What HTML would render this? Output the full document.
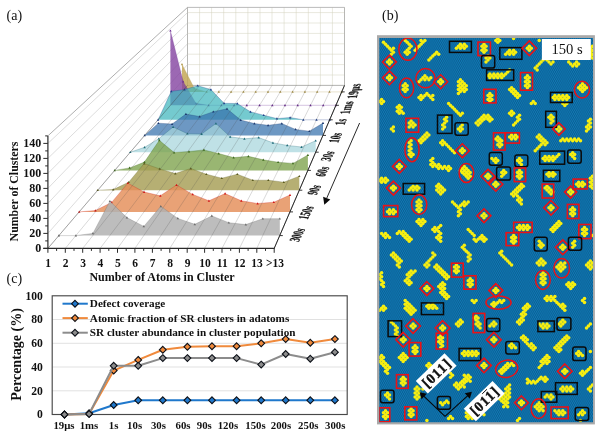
<!DOCTYPE html>
<html><head><meta charset="utf-8"><title>figure</title>
<style>
html,body{margin:0;padding:0;background:#fff;}
body{width:600px;height:444px;overflow:hidden;font-family:"Liberation Serif",serif;}
svg{display:block;will-change:transform;}
.b{font-family:"Liberation Serif",serif;font-weight:bold;fill:#111;}
.r{font-family:"Liberation Serif",serif;fill:#111;}
</style></head><body>
<svg width="600" height="444" viewBox="0 0 600 444">
<defs>
<pattern id="tex" x="379.25" y="38" width="1.9" height="3.66" patternUnits="userSpaceOnUse">
<rect width="1.9" height="3.66" fill="#0b5c92"/>
<circle cx="0.475" cy="0.915" r="0.74" fill="#1287c2"/>
<circle cx="1.425" cy="2.745" r="0.74" fill="#1287c2"/>
</pattern>
<clipPath id="bclip"><rect x="379.25" y="38" width="213.75" height="384.25"/></clipPath>
</defs>
<rect width="600" height="444" fill="#fff"/>
<line x1="187.5" y1="85.4" x2="344.5" y2="85.4" stroke="#d2d1bd" stroke-width="0.5"/>
<line x1="187.5" y1="75.0" x2="344.5" y2="75.0" stroke="#d2d1bd" stroke-width="0.5"/>
<line x1="187.5" y1="64.6" x2="344.5" y2="64.6" stroke="#d2d1bd" stroke-width="0.5"/>
<line x1="187.5" y1="54.2" x2="344.5" y2="54.2" stroke="#d2d1bd" stroke-width="0.5"/>
<line x1="187.5" y1="43.8" x2="344.5" y2="43.8" stroke="#d2d1bd" stroke-width="0.5"/>
<line x1="187.5" y1="33.4" x2="344.5" y2="33.4" stroke="#d2d1bd" stroke-width="0.5"/>
<line x1="187.5" y1="23.0" x2="344.5" y2="23.0" stroke="#d2d1bd" stroke-width="0.5"/>
<line x1="187.5" y1="12.6" x2="344.5" y2="12.6" stroke="#d2d1bd" stroke-width="0.5"/>
<line x1="187.5" y1="85.4" x2="187.5" y2="7.4" stroke="#d2d1bd" stroke-width="0.5"/>
<line x1="199.6" y1="85.4" x2="199.6" y2="7.4" stroke="#d2d1bd" stroke-width="0.5"/>
<line x1="211.6" y1="85.4" x2="211.6" y2="7.4" stroke="#d2d1bd" stroke-width="0.5"/>
<line x1="223.7" y1="85.4" x2="223.7" y2="7.4" stroke="#d2d1bd" stroke-width="0.5"/>
<line x1="235.8" y1="85.4" x2="235.8" y2="7.4" stroke="#d2d1bd" stroke-width="0.5"/>
<line x1="247.9" y1="85.4" x2="247.9" y2="7.4" stroke="#d2d1bd" stroke-width="0.5"/>
<line x1="260.0" y1="85.4" x2="260.0" y2="7.4" stroke="#d2d1bd" stroke-width="0.5"/>
<line x1="272.0" y1="85.4" x2="272.0" y2="7.4" stroke="#d2d1bd" stroke-width="0.5"/>
<line x1="284.1" y1="85.4" x2="284.1" y2="7.4" stroke="#d2d1bd" stroke-width="0.5"/>
<line x1="296.2" y1="85.4" x2="296.2" y2="7.4" stroke="#d2d1bd" stroke-width="0.5"/>
<line x1="308.3" y1="85.4" x2="308.3" y2="7.4" stroke="#d2d1bd" stroke-width="0.5"/>
<line x1="320.4" y1="85.4" x2="320.4" y2="7.4" stroke="#d2d1bd" stroke-width="0.5"/>
<line x1="332.4" y1="85.4" x2="332.4" y2="7.4" stroke="#d2d1bd" stroke-width="0.5"/>
<line x1="344.5" y1="85.4" x2="344.5" y2="7.4" stroke="#d2d1bd" stroke-width="0.5"/>
<polygon points="187.5,85.4 344.5,85.4 344.5,7.4 187.5,7.4" fill="none" stroke="#a9a9a9" stroke-width="0.8"/>
<line x1="47.9" y1="248.4" x2="187.5" y2="85.4" stroke="#c6c6c6" stroke-width="0.6"/>
<line x1="47.9" y1="233.4" x2="187.5" y2="75.0" stroke="#c6c6c6" stroke-width="0.6"/>
<line x1="47.9" y1="218.4" x2="187.5" y2="64.6" stroke="#c6c6c6" stroke-width="0.6"/>
<line x1="47.9" y1="203.4" x2="187.5" y2="54.2" stroke="#c6c6c6" stroke-width="0.6"/>
<line x1="47.9" y1="188.4" x2="187.5" y2="43.8" stroke="#c6c6c6" stroke-width="0.6"/>
<line x1="47.9" y1="173.4" x2="187.5" y2="33.4" stroke="#c6c6c6" stroke-width="0.6"/>
<line x1="47.9" y1="158.4" x2="187.5" y2="23.0" stroke="#c6c6c6" stroke-width="0.6"/>
<line x1="47.9" y1="143.4" x2="187.5" y2="12.6" stroke="#c6c6c6" stroke-width="0.6"/>
<line x1="47.9" y1="135.9" x2="187.5" y2="7.4" stroke="#9a9a9a" stroke-width="0.8"/>
<polygon points="182.0,64.3 194.3,88.3 206.6,91.9 218.8,91.9 231.1,91.9 243.4,91.9 255.7,91.9 268.0,91.9 280.3,91.9 292.6,91.9 304.9,91.9 317.2,91.9 329.5,91.9 341.7,91.9 341.7,91.9 182.0,91.9" fill="rgba(196,168,88,0.85)"/>
<polyline points="182.0,64.3 194.3,88.3 206.6,91.9 218.8,91.9 231.1,91.9 243.4,91.9 255.7,91.9 268.0,91.9 280.3,91.9 292.6,91.9 304.9,91.9 317.2,91.9 329.5,91.9 341.7,91.9" fill="none" stroke="#b09a50" stroke-width="0.5" stroke-opacity="0.55"/>
<polygon points="182.0,63.0 183.2,65.2 180.8,65.2" fill="#b09a50"/>
<polygon points="194.3,87.0 195.5,89.2 193.1,89.2" fill="#b09a50"/>
<polygon points="206.6,90.6 207.8,92.8 205.4,92.8" fill="#b09a50"/>
<polygon points="218.8,90.6 220.0,92.8 217.6,92.8" fill="#b09a50"/>
<polygon points="231.1,90.6 232.3,92.8 229.9,92.8" fill="#b09a50"/>
<polygon points="243.4,90.6 244.6,92.8 242.2,92.8" fill="#b09a50"/>
<polygon points="255.7,90.6 256.9,92.8 254.5,92.8" fill="#b09a50"/>
<polygon points="268.0,90.6 269.2,92.8 266.8,92.8" fill="#b09a50"/>
<polygon points="280.3,90.6 281.5,92.8 279.1,92.8" fill="#b09a50"/>
<polygon points="292.6,90.6 293.8,92.8 291.4,92.8" fill="#b09a50"/>
<polygon points="304.9,90.6 306.1,92.8 303.7,92.8" fill="#b09a50"/>
<polygon points="317.2,90.6 318.4,92.8 316.0,92.8" fill="#b09a50"/>
<polygon points="329.5,90.6 330.7,92.8 328.3,92.8" fill="#b09a50"/>
<polygon points="341.7,90.6 342.9,92.8 340.5,92.8" fill="#b09a50"/>
<polygon points="170.4,30.7 183.2,81.7 195.9,103.3 208.6,105.3 221.4,105.3 234.1,105.3 246.8,105.3 259.6,105.3 272.3,105.3 285.0,105.3 297.7,105.3 310.5,105.3 323.2,105.3 335.9,105.3 335.9,105.3 170.4,105.3" fill="rgba(128,62,158,0.78)"/>
<polyline points="170.4,30.7 183.2,81.7 195.9,103.3 208.6,105.3 221.4,105.3 234.1,105.3 246.8,105.3 259.6,105.3 272.3,105.3 285.0,105.3 297.7,105.3 310.5,105.3 323.2,105.3 335.9,105.3" fill="none" stroke="#6a2c90" stroke-width="0.5" stroke-opacity="0.55"/>
<polygon points="170.4,29.4 171.6,31.6 169.2,31.6" fill="#6a2c90"/>
<polygon points="183.2,80.4 184.4,82.6 182.0,82.6" fill="#6a2c90"/>
<polygon points="195.9,102.0 197.1,104.2 194.7,104.2" fill="#6a2c90"/>
<polygon points="208.6,104.0 209.8,106.2 207.4,106.2" fill="#6a2c90"/>
<polygon points="221.4,104.0 222.6,106.2 220.2,106.2" fill="#6a2c90"/>
<polygon points="234.1,104.0 235.3,106.2 232.9,106.2" fill="#6a2c90"/>
<polygon points="246.8,104.0 248.0,106.2 245.6,106.2" fill="#6a2c90"/>
<polygon points="259.6,104.0 260.8,106.2 258.4,106.2" fill="#6a2c90"/>
<polygon points="272.3,104.0 273.5,106.2 271.1,106.2" fill="#6a2c90"/>
<polygon points="285.0,104.0 286.2,106.2 283.8,106.2" fill="#6a2c90"/>
<polygon points="297.7,104.0 298.9,106.2 296.5,106.2" fill="#6a2c90"/>
<polygon points="310.5,104.0 311.7,106.2 309.3,106.2" fill="#6a2c90"/>
<polygon points="323.2,104.0 324.4,106.2 322.0,106.2" fill="#6a2c90"/>
<polygon points="335.9,104.0 337.1,106.2 334.7,106.2" fill="#6a2c90"/>
<polygon points="158.1,119.8 171.3,91.3 184.5,89.6 197.7,85.7 210.9,89.6 224.1,103.3 237.3,103.5 250.5,111.8 263.7,115.2 276.9,118.6 290.1,117.5 303.3,119.8 316.5,119.8 329.7,119.8 329.7,119.8 158.1,119.8" fill="rgba(62,182,188,0.72)"/>
<polyline points="158.1,119.8 171.3,91.3 184.5,89.6 197.7,85.7 210.9,89.6 224.1,103.3 237.3,103.5 250.5,111.8 263.7,115.2 276.9,118.6 290.1,117.5 303.3,119.8 316.5,119.8 329.7,119.8" fill="none" stroke="#1f3f8a" stroke-width="0.5" stroke-opacity="0.55"/>
<polygon points="158.1,118.5 159.3,120.7 156.9,120.7" fill="#1f3f8a"/>
<polygon points="171.3,90.0 172.5,92.2 170.1,92.2" fill="#1f3f8a"/>
<polygon points="184.5,88.3 185.7,90.5 183.3,90.5" fill="#1f3f8a"/>
<polygon points="197.7,84.4 198.9,86.6 196.5,86.6" fill="#1f3f8a"/>
<polygon points="210.9,88.3 212.1,90.5 209.7,90.5" fill="#1f3f8a"/>
<polygon points="224.1,102.0 225.3,104.2 222.9,104.2" fill="#1f3f8a"/>
<polygon points="237.3,102.2 238.5,104.4 236.1,104.4" fill="#1f3f8a"/>
<polygon points="250.5,110.5 251.7,112.7 249.3,112.7" fill="#1f3f8a"/>
<polygon points="263.7,113.9 264.9,116.1 262.5,116.1" fill="#1f3f8a"/>
<polygon points="276.9,117.3 278.1,119.5 275.7,119.5" fill="#1f3f8a"/>
<polygon points="290.1,116.2 291.3,118.4 288.9,118.4" fill="#1f3f8a"/>
<polygon points="303.3,118.5 304.5,120.7 302.1,120.7" fill="#1f3f8a"/>
<polygon points="316.5,118.5 317.7,120.7 315.3,120.7" fill="#1f3f8a"/>
<polygon points="329.7,118.5 330.9,120.7 328.5,120.7" fill="#1f3f8a"/>
<polygon points="144.7,135.4 158.4,123.2 172.1,124.0 185.9,114.1 199.6,116.5 213.3,111.7 227.0,108.8 240.7,120.0 254.4,123.5 268.1,125.3 281.8,123.5 295.6,129.4 309.3,131.2 323.0,123.1 323.0,135.4 144.7,135.4" fill="rgba(52,112,172,0.72)"/>
<polyline points="144.7,135.4 158.4,123.2 172.1,124.0 185.9,114.1 199.6,116.5 213.3,111.7 227.0,108.8 240.7,120.0 254.4,123.5 268.1,125.3 281.8,123.5 295.6,129.4 309.3,131.2 323.0,123.1" fill="none" stroke="#1d3a70" stroke-width="0.5" stroke-opacity="0.55"/>
<polygon points="144.7,134.1 145.9,136.3 143.5,136.3" fill="#1d3a70"/>
<polygon points="158.4,121.9 159.6,124.1 157.2,124.1" fill="#1d3a70"/>
<polygon points="172.1,122.7 173.3,124.9 170.9,124.9" fill="#1d3a70"/>
<polygon points="185.9,112.8 187.1,115.0 184.7,115.0" fill="#1d3a70"/>
<polygon points="199.6,115.2 200.8,117.4 198.4,117.4" fill="#1d3a70"/>
<polygon points="213.3,110.4 214.5,112.6 212.1,112.6" fill="#1d3a70"/>
<polygon points="227.0,107.5 228.2,109.7 225.8,109.7" fill="#1d3a70"/>
<polygon points="240.7,118.7 241.9,120.9 239.5,120.9" fill="#1d3a70"/>
<polygon points="254.4,122.2 255.6,124.4 253.2,124.4" fill="#1d3a70"/>
<polygon points="268.1,124.0 269.3,126.2 266.9,126.2" fill="#1d3a70"/>
<polygon points="281.8,122.2 283.0,124.4 280.6,124.4" fill="#1d3a70"/>
<polygon points="295.6,128.1 296.8,130.3 294.4,130.3" fill="#1d3a70"/>
<polygon points="309.3,129.9 310.5,132.1 308.1,132.1" fill="#1d3a70"/>
<polygon points="323.0,121.8 324.2,124.0 321.8,124.0" fill="#1d3a70"/>
<polygon points="130.3,152.2 144.6,147.3 158.8,138.7 173.1,127.0 187.4,133.7 201.6,134.0 215.9,123.6 230.2,136.8 244.4,138.8 258.7,137.6 272.9,142.8 287.2,145.4 301.5,147.0 315.7,140.7 315.7,152.2 130.3,152.2" fill="rgba(166,214,220,0.72)"/>
<polyline points="130.3,152.2 144.6,147.3 158.8,138.7 173.1,127.0 187.4,133.7 201.6,134.0 215.9,123.6 230.2,136.8 244.4,138.8 258.7,137.6 272.9,142.8 287.2,145.4 301.5,147.0 315.7,140.7" fill="none" stroke="#1f6a78" stroke-width="0.5" stroke-opacity="0.55"/>
<polygon points="130.3,150.9 131.5,153.1 129.1,153.1" fill="#1f6a78"/>
<polygon points="144.6,146.0 145.8,148.2 143.4,148.2" fill="#1f6a78"/>
<polygon points="158.8,137.4 160.0,139.6 157.6,139.6" fill="#1f6a78"/>
<polygon points="173.1,125.7 174.3,127.9 171.9,127.9" fill="#1f6a78"/>
<polygon points="187.4,132.4 188.6,134.6 186.2,134.6" fill="#1f6a78"/>
<polygon points="201.6,132.7 202.8,134.9 200.4,134.9" fill="#1f6a78"/>
<polygon points="215.9,122.3 217.1,124.5 214.7,124.5" fill="#1f6a78"/>
<polygon points="230.2,135.5 231.4,137.7 229.0,137.7" fill="#1f6a78"/>
<polygon points="244.4,137.5 245.6,139.7 243.2,139.7" fill="#1f6a78"/>
<polygon points="258.7,136.3 259.9,138.5 257.5,138.5" fill="#1f6a78"/>
<polygon points="272.9,141.5 274.1,143.7 271.7,143.7" fill="#1f6a78"/>
<polygon points="287.2,144.1 288.4,146.3 286.0,146.3" fill="#1f6a78"/>
<polygon points="301.5,145.7 302.7,147.9 300.3,147.9" fill="#1f6a78"/>
<polygon points="315.7,139.4 316.9,141.6 314.5,141.6" fill="#1f6a78"/>
<polygon points="114.7,170.4 129.6,167.9 144.4,162.1 159.3,140.3 174.1,152.5 189.0,151.5 203.9,149.9 218.7,153.5 233.6,157.6 248.4,156.3 263.3,159.8 278.1,162.2 293.0,163.4 307.9,155.0 307.9,170.4 114.7,170.4" fill="rgba(124,162,74,0.78)"/>
<polyline points="114.7,170.4 129.6,167.9 144.4,162.1 159.3,140.3 174.1,152.5 189.0,151.5 203.9,149.9 218.7,153.5 233.6,157.6 248.4,156.3 263.3,159.8 278.1,162.2 293.0,163.4 307.9,155.0" fill="none" stroke="#3f6a1e" stroke-width="0.5" stroke-opacity="0.55"/>
<polygon points="114.7,169.1 115.9,171.3 113.5,171.3" fill="#3f6a1e"/>
<polygon points="129.6,166.6 130.8,168.8 128.4,168.8" fill="#3f6a1e"/>
<polygon points="144.4,160.8 145.6,163.0 143.2,163.0" fill="#3f6a1e"/>
<polygon points="159.3,139.0 160.5,141.2 158.1,141.2" fill="#3f6a1e"/>
<polygon points="174.1,151.2 175.3,153.4 172.9,153.4" fill="#3f6a1e"/>
<polygon points="189.0,150.2 190.2,152.4 187.8,152.4" fill="#3f6a1e"/>
<polygon points="203.9,148.6 205.1,150.8 202.7,150.8" fill="#3f6a1e"/>
<polygon points="218.7,152.2 219.9,154.4 217.5,154.4" fill="#3f6a1e"/>
<polygon points="233.6,156.3 234.8,158.5 232.4,158.5" fill="#3f6a1e"/>
<polygon points="248.4,155.0 249.6,157.2 247.2,157.2" fill="#3f6a1e"/>
<polygon points="263.3,158.5 264.5,160.7 262.1,160.7" fill="#3f6a1e"/>
<polygon points="278.1,160.9 279.3,163.1 276.9,163.1" fill="#3f6a1e"/>
<polygon points="293.0,162.1 294.2,164.3 291.8,164.3" fill="#3f6a1e"/>
<polygon points="307.9,153.7 309.1,155.9 306.7,155.9" fill="#3f6a1e"/>
<polygon points="97.7,190.2 113.2,189.6 128.7,182.2 144.2,163.5 159.7,168.9 175.3,173.5 190.8,168.5 206.3,174.2 221.8,178.2 237.3,174.2 252.8,180.2 268.3,180.2 283.8,182.2 299.3,176.2 299.3,190.2 97.7,190.2" fill="rgba(166,158,84,0.82)"/>
<polyline points="97.7,190.2 113.2,189.6 128.7,182.2 144.2,163.5 159.7,168.9 175.3,173.5 190.8,168.5 206.3,174.2 221.8,178.2 237.3,174.2 252.8,180.2 268.3,180.2 283.8,182.2 299.3,176.2" fill="none" stroke="#5a5a1e" stroke-width="0.5" stroke-opacity="0.55"/>
<polygon points="97.7,188.9 98.9,191.1 96.5,191.1" fill="#5a5a1e"/>
<polygon points="113.2,188.3 114.4,190.5 112.0,190.5" fill="#5a5a1e"/>
<polygon points="128.7,180.9 129.9,183.1 127.5,183.1" fill="#5a5a1e"/>
<polygon points="144.2,162.2 145.4,164.4 143.0,164.4" fill="#5a5a1e"/>
<polygon points="159.7,167.6 160.9,169.8 158.5,169.8" fill="#5a5a1e"/>
<polygon points="175.3,172.2 176.5,174.4 174.1,174.4" fill="#5a5a1e"/>
<polygon points="190.8,167.2 192.0,169.4 189.6,169.4" fill="#5a5a1e"/>
<polygon points="206.3,172.9 207.5,175.1 205.1,175.1" fill="#5a5a1e"/>
<polygon points="221.8,176.9 223.0,179.1 220.6,179.1" fill="#5a5a1e"/>
<polygon points="237.3,172.9 238.5,175.1 236.1,175.1" fill="#5a5a1e"/>
<polygon points="252.8,178.9 254.0,181.1 251.6,181.1" fill="#5a5a1e"/>
<polygon points="268.3,178.9 269.5,181.1 267.1,181.1" fill="#5a5a1e"/>
<polygon points="283.8,180.9 285.0,183.1 282.6,183.1" fill="#5a5a1e"/>
<polygon points="299.3,174.9 300.5,177.1 298.1,177.1" fill="#5a5a1e"/>
<polygon points="79.2,211.9 95.4,210.5 111.6,202.4 127.8,183.2 144.1,192.0 160.3,195.8 176.5,185.0 192.7,194.4 208.9,200.8 225.1,193.6 241.3,200.8 257.6,203.5 273.8,202.2 290.0,195.0 290.0,211.9 79.2,211.9" fill="rgba(228,142,88,0.82)"/>
<polyline points="79.2,211.9 95.4,210.5 111.6,202.4 127.8,183.2 144.1,192.0 160.3,195.8 176.5,185.0 192.7,194.4 208.9,200.8 225.1,193.6 241.3,200.8 257.6,203.5 273.8,202.2 290.0,195.0" fill="none" stroke="#d01818" stroke-width="0.5" stroke-opacity="0.55"/>
<polygon points="79.2,210.6 80.4,212.8 78.0,212.8" fill="#d01818"/>
<polygon points="95.4,209.2 96.6,211.4 94.2,211.4" fill="#d01818"/>
<polygon points="111.6,201.1 112.8,203.3 110.4,203.3" fill="#d01818"/>
<polygon points="127.8,181.9 129.0,184.1 126.6,184.1" fill="#d01818"/>
<polygon points="144.1,190.7 145.3,192.9 142.9,192.9" fill="#d01818"/>
<polygon points="160.3,194.5 161.5,196.7 159.1,196.7" fill="#d01818"/>
<polygon points="176.5,183.7 177.7,185.9 175.3,185.9" fill="#d01818"/>
<polygon points="192.7,193.1 193.9,195.3 191.5,195.3" fill="#d01818"/>
<polygon points="208.9,199.5 210.1,201.7 207.7,201.7" fill="#d01818"/>
<polygon points="225.1,192.3 226.3,194.5 223.9,194.5" fill="#d01818"/>
<polygon points="241.3,199.5 242.5,201.7 240.1,201.7" fill="#d01818"/>
<polygon points="257.6,202.2 258.8,204.4 256.4,204.4" fill="#d01818"/>
<polygon points="273.8,200.9 275.0,203.1 272.6,203.1" fill="#d01818"/>
<polygon points="290.0,193.7 291.2,195.9 288.8,195.9" fill="#d01818"/>
<polygon points="58.9,235.6 75.9,235.6 92.9,233.4 109.9,201.2 126.9,217.6 143.8,226.4 160.8,206.3 177.8,218.4 194.8,224.3 211.8,215.9 228.8,222.7 245.8,224.6 262.8,218.7 279.8,218.7 279.8,235.6 58.9,235.6" fill="rgba(178,178,178,0.85)"/>
<polyline points="58.9,235.6 75.9,235.6 92.9,233.4 109.9,201.2 126.9,217.6 143.8,226.4 160.8,206.3 177.8,218.4 194.8,224.3 211.8,215.9 228.8,222.7 245.8,224.6 262.8,218.7 279.8,218.7" fill="none" stroke="#6a6a6a" stroke-width="0.5" stroke-opacity="0.55"/>
<polygon points="58.9,234.3 60.1,236.5 57.7,236.5" fill="#6a6a6a"/>
<polygon points="75.9,234.3 77.1,236.5 74.7,236.5" fill="#6a6a6a"/>
<polygon points="92.9,232.1 94.1,234.3 91.7,234.3" fill="#6a6a6a"/>
<polygon points="109.9,199.9 111.1,202.1 108.7,202.1" fill="#6a6a6a"/>
<polygon points="126.9,216.3 128.1,218.5 125.7,218.5" fill="#6a6a6a"/>
<polygon points="143.8,225.1 145.0,227.3 142.6,227.3" fill="#6a6a6a"/>
<polygon points="160.8,205.0 162.0,207.2 159.6,207.2" fill="#6a6a6a"/>
<polygon points="177.8,217.1 179.0,219.3 176.6,219.3" fill="#6a6a6a"/>
<polygon points="194.8,223.0 196.0,225.2 193.6,225.2" fill="#6a6a6a"/>
<polygon points="211.8,214.6 213.0,216.8 210.6,216.8" fill="#6a6a6a"/>
<polygon points="228.8,221.4 230.0,223.6 227.6,223.6" fill="#6a6a6a"/>
<polygon points="245.8,223.3 247.0,225.5 244.6,225.5" fill="#6a6a6a"/>
<polygon points="262.8,217.4 264.0,219.6 261.6,219.6" fill="#6a6a6a"/>
<polygon points="279.8,217.4 281.0,219.6 278.6,219.6" fill="#6a6a6a"/>
<line x1="47.9" y1="248.4" x2="187.5" y2="85.4" stroke="rgba(60,60,60,0.6)" stroke-width="0.6"/>
<line x1="65.3" y1="248.4" x2="199.6" y2="85.4" stroke="rgba(70,70,70,0.42)" stroke-width="0.5"/>
<line x1="82.7" y1="248.4" x2="211.6" y2="85.4" stroke="rgba(70,70,70,0.42)" stroke-width="0.5"/>
<line x1="100.1" y1="248.4" x2="223.7" y2="85.4" stroke="rgba(70,70,70,0.42)" stroke-width="0.5"/>
<line x1="117.5" y1="248.4" x2="235.8" y2="85.4" stroke="rgba(70,70,70,0.42)" stroke-width="0.5"/>
<line x1="134.9" y1="248.4" x2="247.9" y2="85.4" stroke="rgba(70,70,70,0.42)" stroke-width="0.5"/>
<line x1="152.4" y1="248.4" x2="260.0" y2="85.4" stroke="rgba(70,70,70,0.42)" stroke-width="0.5"/>
<line x1="169.8" y1="248.4" x2="272.0" y2="85.4" stroke="rgba(70,70,70,0.42)" stroke-width="0.5"/>
<line x1="187.2" y1="248.4" x2="284.1" y2="85.4" stroke="rgba(70,70,70,0.42)" stroke-width="0.5"/>
<line x1="204.6" y1="248.4" x2="296.2" y2="85.4" stroke="rgba(70,70,70,0.42)" stroke-width="0.5"/>
<line x1="222.0" y1="248.4" x2="308.3" y2="85.4" stroke="rgba(70,70,70,0.42)" stroke-width="0.5"/>
<line x1="239.4" y1="248.4" x2="320.4" y2="85.4" stroke="rgba(70,70,70,0.42)" stroke-width="0.5"/>
<line x1="256.8" y1="248.4" x2="332.4" y2="85.4" stroke="rgba(70,70,70,0.42)" stroke-width="0.5"/>
<line x1="274.2" y1="248.4" x2="344.5" y2="85.4" stroke="rgba(60,60,60,0.6)" stroke-width="0.6"/>
<line x1="47.9" y1="249.0" x2="47.9" y2="135.9" stroke="#2a2a2a" stroke-width="1.2"/>
<line x1="43.3" y1="248.4" x2="47.9" y2="248.4" stroke="#2a2a2a" stroke-width="1.0"/>
<line x1="45.2" y1="240.9" x2="47.9" y2="240.9" stroke="#2a2a2a" stroke-width="1.0"/>
<line x1="43.3" y1="233.4" x2="47.9" y2="233.4" stroke="#2a2a2a" stroke-width="1.0"/>
<line x1="45.2" y1="225.9" x2="47.9" y2="225.9" stroke="#2a2a2a" stroke-width="1.0"/>
<line x1="43.3" y1="218.4" x2="47.9" y2="218.4" stroke="#2a2a2a" stroke-width="1.0"/>
<line x1="45.2" y1="210.9" x2="47.9" y2="210.9" stroke="#2a2a2a" stroke-width="1.0"/>
<line x1="43.3" y1="203.4" x2="47.9" y2="203.4" stroke="#2a2a2a" stroke-width="1.0"/>
<line x1="45.2" y1="195.9" x2="47.9" y2="195.9" stroke="#2a2a2a" stroke-width="1.0"/>
<line x1="43.3" y1="188.4" x2="47.9" y2="188.4" stroke="#2a2a2a" stroke-width="1.0"/>
<line x1="45.2" y1="180.9" x2="47.9" y2="180.9" stroke="#2a2a2a" stroke-width="1.0"/>
<line x1="43.3" y1="173.4" x2="47.9" y2="173.4" stroke="#2a2a2a" stroke-width="1.0"/>
<line x1="45.2" y1="165.9" x2="47.9" y2="165.9" stroke="#2a2a2a" stroke-width="1.0"/>
<line x1="43.3" y1="158.4" x2="47.9" y2="158.4" stroke="#2a2a2a" stroke-width="1.0"/>
<line x1="45.2" y1="150.9" x2="47.9" y2="150.9" stroke="#2a2a2a" stroke-width="1.0"/>
<line x1="43.3" y1="143.4" x2="47.9" y2="143.4" stroke="#2a2a2a" stroke-width="1.0"/>
<line x1="45.2" y1="135.9" x2="47.9" y2="135.9" stroke="#2a2a2a" stroke-width="1.0"/>
<text x="41.2" y="252.4" text-anchor="end" class="b" font-size="12">0</text>
<text x="41.2" y="237.4" text-anchor="end" class="b" font-size="12">20</text>
<text x="41.2" y="222.4" text-anchor="end" class="b" font-size="12">40</text>
<text x="41.2" y="207.4" text-anchor="end" class="b" font-size="12">60</text>
<text x="41.2" y="192.4" text-anchor="end" class="b" font-size="12">80</text>
<text x="41.2" y="177.4" text-anchor="end" class="b" font-size="12">100</text>
<text x="41.2" y="162.4" text-anchor="end" class="b" font-size="12">120</text>
<text x="41.2" y="147.4" text-anchor="end" class="b" font-size="12">140</text>
<line x1="43.3" y1="248.4" x2="274.7" y2="248.4" stroke="#2a2a2a" stroke-width="1.2"/>
<line x1="47.9" y1="248.4" x2="47.9" y2="252.8" stroke="#2a2a2a" stroke-width="1.0"/>
<line x1="56.6" y1="248.4" x2="56.6" y2="250.9" stroke="#2a2a2a" stroke-width="1.0"/>
<text x="48.2" y="267.3" text-anchor="middle" class="b" font-size="11.5">1</text>
<line x1="65.3" y1="248.4" x2="65.3" y2="252.8" stroke="#2a2a2a" stroke-width="1.0"/>
<line x1="74.0" y1="248.4" x2="74.0" y2="250.9" stroke="#2a2a2a" stroke-width="1.0"/>
<text x="65.6" y="267.3" text-anchor="middle" class="b" font-size="11.5">2</text>
<line x1="82.7" y1="248.4" x2="82.7" y2="252.8" stroke="#2a2a2a" stroke-width="1.0"/>
<line x1="91.4" y1="248.4" x2="91.4" y2="250.9" stroke="#2a2a2a" stroke-width="1.0"/>
<text x="83.0" y="267.3" text-anchor="middle" class="b" font-size="11.5">3</text>
<line x1="100.1" y1="248.4" x2="100.1" y2="252.8" stroke="#2a2a2a" stroke-width="1.0"/>
<line x1="108.8" y1="248.4" x2="108.8" y2="250.9" stroke="#2a2a2a" stroke-width="1.0"/>
<text x="100.4" y="267.3" text-anchor="middle" class="b" font-size="11.5">4</text>
<line x1="117.5" y1="248.4" x2="117.5" y2="252.8" stroke="#2a2a2a" stroke-width="1.0"/>
<line x1="126.2" y1="248.4" x2="126.2" y2="250.9" stroke="#2a2a2a" stroke-width="1.0"/>
<text x="117.8" y="267.3" text-anchor="middle" class="b" font-size="11.5">5</text>
<line x1="134.9" y1="248.4" x2="134.9" y2="252.8" stroke="#2a2a2a" stroke-width="1.0"/>
<line x1="143.7" y1="248.4" x2="143.7" y2="250.9" stroke="#2a2a2a" stroke-width="1.0"/>
<text x="135.2" y="267.3" text-anchor="middle" class="b" font-size="11.5">6</text>
<line x1="152.4" y1="248.4" x2="152.4" y2="252.8" stroke="#2a2a2a" stroke-width="1.0"/>
<line x1="161.1" y1="248.4" x2="161.1" y2="250.9" stroke="#2a2a2a" stroke-width="1.0"/>
<text x="152.7" y="267.3" text-anchor="middle" class="b" font-size="11.5">7</text>
<line x1="169.8" y1="248.4" x2="169.8" y2="252.8" stroke="#2a2a2a" stroke-width="1.0"/>
<line x1="178.5" y1="248.4" x2="178.5" y2="250.9" stroke="#2a2a2a" stroke-width="1.0"/>
<text x="170.1" y="267.3" text-anchor="middle" class="b" font-size="11.5">8</text>
<line x1="187.2" y1="248.4" x2="187.2" y2="252.8" stroke="#2a2a2a" stroke-width="1.0"/>
<line x1="195.9" y1="248.4" x2="195.9" y2="250.9" stroke="#2a2a2a" stroke-width="1.0"/>
<text x="187.5" y="267.3" text-anchor="middle" class="b" font-size="11.5">9</text>
<line x1="204.6" y1="248.4" x2="204.6" y2="252.8" stroke="#2a2a2a" stroke-width="1.0"/>
<line x1="213.3" y1="248.4" x2="213.3" y2="250.9" stroke="#2a2a2a" stroke-width="1.0"/>
<text x="204.9" y="267.3" text-anchor="middle" class="b" font-size="11.5">10</text>
<line x1="222.0" y1="248.4" x2="222.0" y2="252.8" stroke="#2a2a2a" stroke-width="1.0"/>
<line x1="230.7" y1="248.4" x2="230.7" y2="250.9" stroke="#2a2a2a" stroke-width="1.0"/>
<text x="222.3" y="267.3" text-anchor="middle" class="b" font-size="11.5">11</text>
<line x1="239.4" y1="248.4" x2="239.4" y2="252.8" stroke="#2a2a2a" stroke-width="1.0"/>
<line x1="248.1" y1="248.4" x2="248.1" y2="250.9" stroke="#2a2a2a" stroke-width="1.0"/>
<text x="239.7" y="267.3" text-anchor="middle" class="b" font-size="11.5">12</text>
<line x1="256.8" y1="248.4" x2="256.8" y2="252.8" stroke="#2a2a2a" stroke-width="1.0"/>
<line x1="265.5" y1="248.4" x2="265.5" y2="250.9" stroke="#2a2a2a" stroke-width="1.0"/>
<text x="257.1" y="267.3" text-anchor="middle" class="b" font-size="11.5">13</text>
<line x1="274.2" y1="248.4" x2="274.2" y2="252.8" stroke="#2a2a2a" stroke-width="1.0"/>
<text x="275.0" y="267.3" text-anchor="middle" class="b" font-size="11.5">&gt;13</text>
<line x1="274.2" y1="248.4" x2="344.5" y2="85.4" stroke="#2a2a2a" stroke-width="1.0"/>
<line x1="341.7" y1="91.9" x2="344.7" y2="91.9" stroke="#222" stroke-width="0.9"/>
<line x1="335.9" y1="105.3" x2="338.9" y2="105.3" stroke="#222" stroke-width="0.9"/>
<line x1="329.7" y1="119.8" x2="332.7" y2="119.8" stroke="#222" stroke-width="0.9"/>
<line x1="323.0" y1="135.4" x2="326.0" y2="135.4" stroke="#222" stroke-width="0.9"/>
<line x1="315.7" y1="152.2" x2="318.7" y2="152.2" stroke="#222" stroke-width="0.9"/>
<line x1="307.9" y1="170.4" x2="310.9" y2="170.4" stroke="#222" stroke-width="0.9"/>
<line x1="299.3" y1="190.2" x2="302.3" y2="190.2" stroke="#222" stroke-width="0.9"/>
<line x1="290.0" y1="211.9" x2="293.0" y2="211.9" stroke="#222" stroke-width="0.9"/>
<line x1="279.8" y1="235.6" x2="282.8" y2="235.6" stroke="#222" stroke-width="0.9"/>
<text transform="translate(354.0,91.2) rotate(-73) skewX(20) scale(0.57,1)" text-anchor="middle" class="b" font-size="13.6" y="4.5" stroke="#111" stroke-width="0.25">19μs</text>
<text transform="translate(346.7,107.8) rotate(-71) skewX(20) scale(0.57,1)" text-anchor="middle" class="b" font-size="13.6" y="4.5" stroke="#111" stroke-width="0.25">1ms</text>
<text transform="translate(340.8,122.0) rotate(-68) skewX(20) scale(0.57,1)" text-anchor="middle" class="b" font-size="13.6" y="4.5" stroke="#111" stroke-width="0.25">1s</text>
<text transform="translate(335.3,137.8) rotate(-66) skewX(20) scale(0.57,1)" text-anchor="middle" class="b" font-size="13.6" y="4.5" stroke="#111" stroke-width="0.25">10s</text>
<text transform="translate(327.6,156.1) rotate(-64) skewX(20) scale(0.57,1)" text-anchor="middle" class="b" font-size="13.6" y="4.5" stroke="#111" stroke-width="0.25">30s</text>
<text transform="translate(322.3,171.6) rotate(-63) skewX(20) scale(0.57,1)" text-anchor="middle" class="b" font-size="13.6" y="4.5" stroke="#111" stroke-width="0.25">60s</text>
<text transform="translate(314.2,190.0) rotate(-63) skewX(20) scale(0.57,1)" text-anchor="middle" class="b" font-size="13.6" y="4.5" stroke="#111" stroke-width="0.25">90s</text>
<text transform="translate(306.1,212.7) rotate(-63) skewX(20) scale(0.57,1)" text-anchor="middle" class="b" font-size="13.6" y="4.5" stroke="#111" stroke-width="0.25">150s</text>
<text transform="translate(297.2,235.0) rotate(-63) skewX(20) scale(0.57,1)" text-anchor="middle" class="b" font-size="13.6" y="4.5" stroke="#111" stroke-width="0.25">300s</text>
<line x1="359.6" y1="123" x2="326.8" y2="198" stroke="#111" stroke-width="0.9"/>
<polygon points="324.3,204.8 323.1,196.7 330.3,199.5" fill="#0a0a0a"/>
<text x="6.5" y="20" class="r" font-size="14">(a)</text>
<text transform="translate(18.3,191.5) rotate(-90)" text-anchor="middle" class="b" font-size="11.85">Number of Clusters</text>
<text x="162" y="281.3" text-anchor="middle" class="b" font-size="12">Number of Atoms in Cluster</text>
<line x1="52.2" y1="390.8" x2="347.2" y2="390.8" stroke="#d9d9d9" stroke-width="0.8"/>
<line x1="52.2" y1="367.0" x2="347.2" y2="367.0" stroke="#d9d9d9" stroke-width="0.8"/>
<line x1="52.2" y1="343.3" x2="347.2" y2="343.3" stroke="#d9d9d9" stroke-width="0.8"/>
<line x1="52.2" y1="319.5" x2="347.2" y2="319.5" stroke="#d9d9d9" stroke-width="0.8"/>
<rect x="52.2" y="295.8" width="295.0" height="118.7" fill="none" stroke="#484848" stroke-width="1.15"/>
<text x="42.8" y="418.4" text-anchor="end" class="b" font-size="11.6">0</text>
<text x="42.8" y="394.7" text-anchor="end" class="b" font-size="11.6">20</text>
<text x="42.8" y="370.9" text-anchor="end" class="b" font-size="11.6">40</text>
<text x="42.8" y="347.2" text-anchor="end" class="b" font-size="11.6">60</text>
<text x="42.8" y="323.4" text-anchor="end" class="b" font-size="11.6">80</text>
<text x="42.8" y="299.7" text-anchor="end" class="b" font-size="11.6">100</text>
<text x="64.0" y="428.8" text-anchor="middle" class="b" font-size="10.8">19μs</text>
<text x="89.0" y="428.8" text-anchor="middle" class="b" font-size="10.8">1ms</text>
<text x="113.6" y="428.8" text-anchor="middle" class="b" font-size="10.8">1s</text>
<text x="134.6" y="428.8" text-anchor="middle" class="b" font-size="10.8">10s</text>
<text x="158.4" y="428.8" text-anchor="middle" class="b" font-size="10.8">30s</text>
<text x="183.0" y="428.8" text-anchor="middle" class="b" font-size="10.8">60s</text>
<text x="204.3" y="428.8" text-anchor="middle" class="b" font-size="10.8">90s</text>
<text x="227.9" y="428.8" text-anchor="middle" class="b" font-size="10.8">120s</text>
<text x="255.5" y="428.8" text-anchor="middle" class="b" font-size="10.8">150s</text>
<text x="281.0" y="428.8" text-anchor="middle" class="b" font-size="10.8">200s</text>
<text x="308.3" y="428.8" text-anchor="middle" class="b" font-size="10.8">250s</text>
<text x="335.2" y="428.8" text-anchor="middle" class="b" font-size="10.8">300s</text>
<polyline points="64.5,414.5 89.1,413.3 113.7,405.0 138.2,400.3 162.8,400.3 187.4,400.3 212.0,400.3 236.6,400.3 261.2,400.3 285.7,400.3 310.3,400.3 334.9,400.3" fill="none" stroke="#1f78cc" stroke-width="2.0" stroke-linejoin="round"/>
<polygon points="64.5,411.1 67.9,414.5 64.5,417.9 61.1,414.5" fill="#1f78cc" stroke="#0c1018" stroke-width="1.1"/>
<polygon points="89.1,409.9 92.5,413.3 89.1,416.7 85.7,413.3" fill="#1f78cc" stroke="#0c1018" stroke-width="1.1"/>
<polygon points="113.7,401.6 117.1,405.0 113.7,408.4 110.3,405.0" fill="#1f78cc" stroke="#0c1018" stroke-width="1.1"/>
<polygon points="138.2,396.9 141.6,400.3 138.2,403.7 134.8,400.3" fill="#1f78cc" stroke="#0c1018" stroke-width="1.1"/>
<polygon points="162.8,396.9 166.2,400.3 162.8,403.7 159.4,400.3" fill="#1f78cc" stroke="#0c1018" stroke-width="1.1"/>
<polygon points="187.4,396.9 190.8,400.3 187.4,403.7 184.0,400.3" fill="#1f78cc" stroke="#0c1018" stroke-width="1.1"/>
<polygon points="212.0,396.9 215.4,400.3 212.0,403.7 208.6,400.3" fill="#1f78cc" stroke="#0c1018" stroke-width="1.1"/>
<polygon points="236.6,396.9 240.0,400.3 236.6,403.7 233.2,400.3" fill="#1f78cc" stroke="#0c1018" stroke-width="1.1"/>
<polygon points="261.2,396.9 264.6,400.3 261.2,403.7 257.8,400.3" fill="#1f78cc" stroke="#0c1018" stroke-width="1.1"/>
<polygon points="285.7,396.9 289.1,400.3 285.7,403.7 282.3,400.3" fill="#1f78cc" stroke="#0c1018" stroke-width="1.1"/>
<polygon points="310.3,396.9 313.7,400.3 310.3,403.7 306.9,400.3" fill="#1f78cc" stroke="#0c1018" stroke-width="1.1"/>
<polygon points="334.9,396.9 338.3,400.3 334.9,403.7 331.5,400.3" fill="#1f78cc" stroke="#0c1018" stroke-width="1.1"/>
<polyline points="64.5,414.5 89.1,413.9 113.7,370.6 138.2,359.9 162.8,349.8 187.4,346.8 212.0,346.2 236.6,346.2 261.2,343.3 285.7,339.1 310.3,342.7 334.9,339.1" fill="none" stroke="#f08a3c" stroke-width="2.0" stroke-linejoin="round"/>
<polygon points="64.5,411.1 67.9,414.5 64.5,417.9 61.1,414.5" fill="#f08a3c" stroke="#0c1018" stroke-width="1.1"/>
<polygon points="89.1,410.5 92.5,413.9 89.1,417.3 85.7,413.9" fill="#f08a3c" stroke="#0c1018" stroke-width="1.1"/>
<polygon points="113.7,367.2 117.1,370.6 113.7,374.0 110.3,370.6" fill="#f08a3c" stroke="#0c1018" stroke-width="1.1"/>
<polygon points="138.2,356.5 141.6,359.9 138.2,363.3 134.8,359.9" fill="#f08a3c" stroke="#0c1018" stroke-width="1.1"/>
<polygon points="162.8,346.4 166.2,349.8 162.8,353.2 159.4,349.8" fill="#f08a3c" stroke="#0c1018" stroke-width="1.1"/>
<polygon points="187.4,343.4 190.8,346.8 187.4,350.2 184.0,346.8" fill="#f08a3c" stroke="#0c1018" stroke-width="1.1"/>
<polygon points="212.0,342.8 215.4,346.2 212.0,349.6 208.6,346.2" fill="#f08a3c" stroke="#0c1018" stroke-width="1.1"/>
<polygon points="236.6,342.8 240.0,346.2 236.6,349.6 233.2,346.2" fill="#f08a3c" stroke="#0c1018" stroke-width="1.1"/>
<polygon points="261.2,339.9 264.6,343.3 261.2,346.7 257.8,343.3" fill="#f08a3c" stroke="#0c1018" stroke-width="1.1"/>
<polygon points="285.7,335.7 289.1,339.1 285.7,342.5 282.3,339.1" fill="#f08a3c" stroke="#0c1018" stroke-width="1.1"/>
<polygon points="310.3,339.3 313.7,342.7 310.3,346.1 306.9,342.7" fill="#f08a3c" stroke="#0c1018" stroke-width="1.1"/>
<polygon points="334.9,335.7 338.3,339.1 334.9,342.5 331.5,339.1" fill="#f08a3c" stroke="#0c1018" stroke-width="1.1"/>
<polyline points="64.5,414.5 89.1,413.9 113.7,365.8 138.2,365.8 162.8,358.1 187.4,358.1 212.0,358.1 236.6,358.1 261.2,364.6 285.7,354.0 310.3,358.7 334.9,352.2" fill="none" stroke="#8c8c8c" stroke-width="2.0" stroke-linejoin="round"/>
<polygon points="64.5,411.1 67.9,414.5 64.5,417.9 61.1,414.5" fill="#8c8c8c" stroke="#0c1018" stroke-width="1.1"/>
<polygon points="89.1,410.5 92.5,413.9 89.1,417.3 85.7,413.9" fill="#8c8c8c" stroke="#0c1018" stroke-width="1.1"/>
<polygon points="113.7,362.4 117.1,365.8 113.7,369.2 110.3,365.8" fill="#8c8c8c" stroke="#0c1018" stroke-width="1.1"/>
<polygon points="138.2,362.4 141.6,365.8 138.2,369.2 134.8,365.8" fill="#8c8c8c" stroke="#0c1018" stroke-width="1.1"/>
<polygon points="162.8,354.7 166.2,358.1 162.8,361.5 159.4,358.1" fill="#8c8c8c" stroke="#0c1018" stroke-width="1.1"/>
<polygon points="187.4,354.7 190.8,358.1 187.4,361.5 184.0,358.1" fill="#8c8c8c" stroke="#0c1018" stroke-width="1.1"/>
<polygon points="212.0,354.7 215.4,358.1 212.0,361.5 208.6,358.1" fill="#8c8c8c" stroke="#0c1018" stroke-width="1.1"/>
<polygon points="236.6,354.7 240.0,358.1 236.6,361.5 233.2,358.1" fill="#8c8c8c" stroke="#0c1018" stroke-width="1.1"/>
<polygon points="261.2,361.2 264.6,364.6 261.2,368.0 257.8,364.6" fill="#8c8c8c" stroke="#0c1018" stroke-width="1.1"/>
<polygon points="285.7,350.6 289.1,354.0 285.7,357.4 282.3,354.0" fill="#8c8c8c" stroke="#0c1018" stroke-width="1.1"/>
<polygon points="310.3,355.3 313.7,358.7 310.3,362.1 306.9,358.7" fill="#8c8c8c" stroke="#0c1018" stroke-width="1.1"/>
<polygon points="334.9,348.8 338.3,352.2 334.9,355.6 331.5,352.2" fill="#8c8c8c" stroke="#0c1018" stroke-width="1.1"/>
<line x1="62.5" y1="303.7" x2="87.8" y2="303.7" stroke="#1f78cc" stroke-width="2.0"/>
<polygon points="75.0,300.3 78.4,303.7 75.0,307.1 71.6,303.7" fill="#1f78cc" stroke="#0c1018" stroke-width="1.1"/>
<text x="89.8" y="307.4" class="b" font-size="11.2">Defect coverage</text>
<line x1="62.5" y1="318.1" x2="87.8" y2="318.1" stroke="#f08a3c" stroke-width="2.0"/>
<polygon points="75.0,314.7 78.4,318.1 75.0,321.5 71.6,318.1" fill="#f08a3c" stroke="#0c1018" stroke-width="1.1"/>
<text x="89.8" y="321.8" class="b" font-size="11.2">Atomic fraction of SR clusters in adatoms</text>
<line x1="62.5" y1="332.7" x2="87.8" y2="332.7" stroke="#8c8c8c" stroke-width="2.0"/>
<polygon points="75.0,329.3 78.4,332.7 75.0,336.1 71.6,332.7" fill="#8c8c8c" stroke="#0c1018" stroke-width="1.1"/>
<text x="89.8" y="336.4" class="b" font-size="11.2">SR cluster abundance in cluster population</text>
<text x="6.5" y="283" class="r" font-size="14">(c)</text>
<text transform="translate(21.3,354.5) rotate(-90)" text-anchor="middle" class="b" font-size="14">Percentage (%)</text>
<rect x="377.0" y="35.2" width="217.9" height="389.2" fill="#a9a9a9"/>
<rect x="379.25" y="38" width="213.75" height="384.25" fill="url(#tex)"/>
<g clip-path="url(#bclip)">
<g fill="#f7ee10">
<circle cx="379.6" cy="101.4" r="1.75"/>
<circle cx="379.6" cy="180.2" r="1.75"/>
<circle cx="379.6" cy="274.8" r="1.75"/>
<circle cx="379.6" cy="278.7" r="1.75"/>
<circle cx="379.6" cy="310.3" r="1.75"/>
<circle cx="379.6" cy="357.5" r="1.75"/>
<circle cx="379.6" cy="361.5" r="1.75"/>
<circle cx="381.6" cy="99.5" r="1.75"/>
<circle cx="381.6" cy="103.4" r="1.75"/>
<circle cx="381.6" cy="178.3" r="1.75"/>
<circle cx="381.6" cy="182.2" r="1.75"/>
<circle cx="381.6" cy="233.4" r="1.75"/>
<circle cx="381.6" cy="272.8" r="1.75"/>
<circle cx="381.6" cy="276.8" r="1.75"/>
<circle cx="381.6" cy="280.7" r="1.75"/>
<circle cx="381.6" cy="284.6" r="1.75"/>
<circle cx="381.6" cy="308.3" r="1.75"/>
<circle cx="381.6" cy="355.6" r="1.75"/>
<circle cx="381.6" cy="359.5" r="1.75"/>
<circle cx="381.6" cy="363.4" r="1.75"/>
<circle cx="383.5" cy="42.3" r="1.75"/>
<circle cx="383.5" cy="101.4" r="1.75"/>
<circle cx="383.5" cy="180.2" r="1.75"/>
<circle cx="383.5" cy="235.4" r="1.75"/>
<circle cx="383.5" cy="282.7" r="1.75"/>
<circle cx="383.5" cy="286.6" r="1.75"/>
<circle cx="383.5" cy="306.3" r="1.75"/>
<circle cx="383.5" cy="310.3" r="1.75"/>
<circle cx="383.5" cy="357.5" r="1.75"/>
<circle cx="383.5" cy="361.5" r="1.75"/>
<circle cx="383.5" cy="365.4" r="1.75"/>
<circle cx="383.5" cy="412.7" r="1.75"/>
<circle cx="383.5" cy="416.6" r="1.75"/>
<circle cx="385.5" cy="44.3" r="1.75"/>
<circle cx="385.5" cy="178.3" r="1.75"/>
<circle cx="385.5" cy="182.2" r="1.75"/>
<circle cx="385.5" cy="233.4" r="1.75"/>
<circle cx="385.5" cy="237.4" r="1.75"/>
<circle cx="385.5" cy="308.3" r="1.75"/>
<circle cx="385.5" cy="363.4" r="1.75"/>
<circle cx="385.5" cy="367.4" r="1.75"/>
<circle cx="385.5" cy="371.3" r="1.75"/>
<circle cx="385.5" cy="395.0" r="1.75"/>
<circle cx="385.5" cy="410.7" r="1.75"/>
<circle cx="385.5" cy="414.7" r="1.75"/>
<circle cx="385.5" cy="418.6" r="1.75"/>
<circle cx="387.5" cy="46.3" r="1.75"/>
<circle cx="387.5" cy="62.0" r="1.75"/>
<circle cx="387.5" cy="77.8" r="1.75"/>
<circle cx="387.5" cy="180.2" r="1.75"/>
<circle cx="387.5" cy="211.8" r="1.75"/>
<circle cx="387.5" cy="235.4" r="1.75"/>
<circle cx="387.5" cy="365.4" r="1.75"/>
<circle cx="387.5" cy="369.4" r="1.75"/>
<circle cx="387.5" cy="373.3" r="1.75"/>
<circle cx="387.5" cy="393.0" r="1.75"/>
<circle cx="387.5" cy="396.9" r="1.75"/>
<circle cx="387.5" cy="412.7" r="1.75"/>
<circle cx="387.5" cy="416.6" r="1.75"/>
<circle cx="389.5" cy="48.2" r="1.75"/>
<circle cx="389.5" cy="60.1" r="1.75"/>
<circle cx="389.5" cy="64.0" r="1.75"/>
<circle cx="389.5" cy="75.8" r="1.75"/>
<circle cx="389.5" cy="79.8" r="1.75"/>
<circle cx="389.5" cy="209.8" r="1.75"/>
<circle cx="389.5" cy="213.7" r="1.75"/>
<circle cx="389.5" cy="237.4" r="1.75"/>
<circle cx="389.5" cy="367.4" r="1.75"/>
<circle cx="389.5" cy="395.0" r="1.75"/>
<circle cx="389.5" cy="398.9" r="1.75"/>
<circle cx="391.4" cy="50.2" r="1.75"/>
<circle cx="391.4" cy="54.2" r="1.75"/>
<circle cx="391.4" cy="62.0" r="1.75"/>
<circle cx="391.4" cy="77.8" r="1.75"/>
<circle cx="391.4" cy="129.0" r="1.75"/>
<circle cx="391.4" cy="188.1" r="1.75"/>
<circle cx="391.4" cy="211.8" r="1.75"/>
<circle cx="391.4" cy="255.1" r="1.75"/>
<circle cx="391.4" cy="322.1" r="1.75"/>
<circle cx="393.4" cy="48.2" r="1.75"/>
<circle cx="393.4" cy="52.2" r="1.75"/>
<circle cx="393.4" cy="127.1" r="1.75"/>
<circle cx="393.4" cy="131.0" r="1.75"/>
<circle cx="393.4" cy="186.2" r="1.75"/>
<circle cx="393.4" cy="190.1" r="1.75"/>
<circle cx="393.4" cy="209.8" r="1.75"/>
<circle cx="393.4" cy="213.7" r="1.75"/>
<circle cx="393.4" cy="253.1" r="1.75"/>
<circle cx="393.4" cy="257.1" r="1.75"/>
<circle cx="393.4" cy="324.0" r="1.75"/>
<circle cx="395.4" cy="188.1" r="1.75"/>
<circle cx="395.4" cy="211.8" r="1.75"/>
<circle cx="395.4" cy="255.1" r="1.75"/>
<circle cx="395.4" cy="259.0" r="1.75"/>
<circle cx="395.4" cy="326.0" r="1.75"/>
<circle cx="395.4" cy="330.0" r="1.75"/>
<circle cx="395.4" cy="333.9" r="1.75"/>
<circle cx="397.3" cy="107.3" r="1.75"/>
<circle cx="397.3" cy="111.3" r="1.75"/>
<circle cx="397.3" cy="166.5" r="1.75"/>
<circle cx="397.3" cy="233.4" r="1.75"/>
<circle cx="397.3" cy="257.1" r="1.75"/>
<circle cx="397.3" cy="261.0" r="1.75"/>
<circle cx="397.3" cy="264.9" r="1.75"/>
<circle cx="397.3" cy="328.0" r="1.75"/>
<circle cx="397.3" cy="331.9" r="1.75"/>
<circle cx="397.3" cy="335.9" r="1.75"/>
<circle cx="399.3" cy="105.4" r="1.75"/>
<circle cx="399.3" cy="109.3" r="1.75"/>
<circle cx="399.3" cy="113.3" r="1.75"/>
<circle cx="399.3" cy="164.5" r="1.75"/>
<circle cx="399.3" cy="168.4" r="1.75"/>
<circle cx="399.3" cy="231.5" r="1.75"/>
<circle cx="399.3" cy="259.0" r="1.75"/>
<circle cx="399.3" cy="263.0" r="1.75"/>
<circle cx="399.3" cy="266.9" r="1.75"/>
<circle cx="399.3" cy="357.5" r="1.75"/>
<circle cx="401.3" cy="107.3" r="1.75"/>
<circle cx="401.3" cy="111.3" r="1.75"/>
<circle cx="401.3" cy="166.5" r="1.75"/>
<circle cx="401.3" cy="233.4" r="1.75"/>
<circle cx="401.3" cy="261.0" r="1.75"/>
<circle cx="401.3" cy="339.8" r="1.75"/>
<circle cx="401.3" cy="355.6" r="1.75"/>
<circle cx="401.3" cy="359.5" r="1.75"/>
<circle cx="401.3" cy="379.2" r="1.75"/>
<circle cx="401.3" cy="383.1" r="1.75"/>
<circle cx="403.2" cy="85.7" r="1.75"/>
<circle cx="403.2" cy="89.6" r="1.75"/>
<circle cx="403.2" cy="113.3" r="1.75"/>
<circle cx="403.2" cy="231.5" r="1.75"/>
<circle cx="403.2" cy="235.4" r="1.75"/>
<circle cx="403.2" cy="337.8" r="1.75"/>
<circle cx="403.2" cy="341.8" r="1.75"/>
<circle cx="403.2" cy="353.6" r="1.75"/>
<circle cx="403.2" cy="357.5" r="1.75"/>
<circle cx="403.2" cy="361.5" r="1.75"/>
<circle cx="403.2" cy="377.2" r="1.75"/>
<circle cx="403.2" cy="381.2" r="1.75"/>
<circle cx="403.2" cy="385.1" r="1.75"/>
<circle cx="405.2" cy="40.4" r="1.75"/>
<circle cx="405.2" cy="52.2" r="1.75"/>
<circle cx="405.2" cy="83.7" r="1.75"/>
<circle cx="405.2" cy="87.7" r="1.75"/>
<circle cx="405.2" cy="91.6" r="1.75"/>
<circle cx="405.2" cy="233.4" r="1.75"/>
<circle cx="405.2" cy="237.4" r="1.75"/>
<circle cx="405.2" cy="280.7" r="1.75"/>
<circle cx="405.2" cy="300.4" r="1.75"/>
<circle cx="405.2" cy="304.3" r="1.75"/>
<circle cx="405.2" cy="308.3" r="1.75"/>
<circle cx="405.2" cy="339.8" r="1.75"/>
<circle cx="405.2" cy="355.6" r="1.75"/>
<circle cx="405.2" cy="359.5" r="1.75"/>
<circle cx="405.2" cy="379.2" r="1.75"/>
<circle cx="405.2" cy="383.1" r="1.75"/>
<circle cx="407.2" cy="42.3" r="1.75"/>
<circle cx="407.2" cy="50.2" r="1.75"/>
<circle cx="407.2" cy="54.2" r="1.75"/>
<circle cx="407.2" cy="85.7" r="1.75"/>
<circle cx="407.2" cy="89.6" r="1.75"/>
<circle cx="407.2" cy="235.4" r="1.75"/>
<circle cx="407.2" cy="239.3" r="1.75"/>
<circle cx="407.2" cy="274.8" r="1.75"/>
<circle cx="407.2" cy="278.7" r="1.75"/>
<circle cx="407.2" cy="282.7" r="1.75"/>
<circle cx="407.2" cy="302.4" r="1.75"/>
<circle cx="407.2" cy="306.3" r="1.75"/>
<circle cx="407.2" cy="310.3" r="1.75"/>
<circle cx="407.2" cy="357.5" r="1.75"/>
<circle cx="409.2" cy="44.3" r="1.75"/>
<circle cx="409.2" cy="48.2" r="1.75"/>
<circle cx="409.2" cy="52.2" r="1.75"/>
<circle cx="409.2" cy="123.1" r="1.75"/>
<circle cx="409.2" cy="127.1" r="1.75"/>
<circle cx="409.2" cy="142.8" r="1.75"/>
<circle cx="409.2" cy="146.8" r="1.75"/>
<circle cx="409.2" cy="150.7" r="1.75"/>
<circle cx="409.2" cy="154.6" r="1.75"/>
<circle cx="409.2" cy="190.1" r="1.75"/>
<circle cx="409.2" cy="237.4" r="1.75"/>
<circle cx="409.2" cy="241.3" r="1.75"/>
<circle cx="409.2" cy="272.8" r="1.75"/>
<circle cx="409.2" cy="276.8" r="1.75"/>
<circle cx="409.2" cy="280.7" r="1.75"/>
<circle cx="409.2" cy="284.6" r="1.75"/>
<circle cx="409.2" cy="304.3" r="1.75"/>
<circle cx="409.2" cy="308.3" r="1.75"/>
<circle cx="409.2" cy="312.2" r="1.75"/>
<circle cx="409.2" cy="410.7" r="1.75"/>
<circle cx="409.2" cy="414.7" r="1.75"/>
<circle cx="411.1" cy="46.3" r="1.75"/>
<circle cx="411.1" cy="121.1" r="1.75"/>
<circle cx="411.1" cy="125.1" r="1.75"/>
<circle cx="411.1" cy="140.8" r="1.75"/>
<circle cx="411.1" cy="144.8" r="1.75"/>
<circle cx="411.1" cy="148.7" r="1.75"/>
<circle cx="411.1" cy="152.7" r="1.75"/>
<circle cx="411.1" cy="156.6" r="1.75"/>
<circle cx="411.1" cy="188.1" r="1.75"/>
<circle cx="411.1" cy="239.3" r="1.75"/>
<circle cx="411.1" cy="270.9" r="1.75"/>
<circle cx="411.1" cy="274.8" r="1.75"/>
<circle cx="411.1" cy="282.7" r="1.75"/>
<circle cx="411.1" cy="306.3" r="1.75"/>
<circle cx="411.1" cy="310.3" r="1.75"/>
<circle cx="411.1" cy="314.2" r="1.75"/>
<circle cx="411.1" cy="326.0" r="1.75"/>
<circle cx="411.1" cy="408.8" r="1.75"/>
<circle cx="411.1" cy="412.7" r="1.75"/>
<circle cx="411.1" cy="416.6" r="1.75"/>
<circle cx="413.1" cy="123.1" r="1.75"/>
<circle cx="413.1" cy="127.1" r="1.75"/>
<circle cx="413.1" cy="154.6" r="1.75"/>
<circle cx="413.1" cy="186.2" r="1.75"/>
<circle cx="413.1" cy="190.1" r="1.75"/>
<circle cx="413.1" cy="272.8" r="1.75"/>
<circle cx="413.1" cy="308.3" r="1.75"/>
<circle cx="413.1" cy="312.2" r="1.75"/>
<circle cx="413.1" cy="324.0" r="1.75"/>
<circle cx="413.1" cy="328.0" r="1.75"/>
<circle cx="413.1" cy="347.7" r="1.75"/>
<circle cx="413.1" cy="351.6" r="1.75"/>
<circle cx="413.1" cy="410.7" r="1.75"/>
<circle cx="413.1" cy="414.7" r="1.75"/>
<circle cx="415.1" cy="50.2" r="1.75"/>
<circle cx="415.1" cy="125.1" r="1.75"/>
<circle cx="415.1" cy="188.1" r="1.75"/>
<circle cx="415.1" cy="270.9" r="1.75"/>
<circle cx="415.1" cy="310.3" r="1.75"/>
<circle cx="415.1" cy="326.0" r="1.75"/>
<circle cx="415.1" cy="345.7" r="1.75"/>
<circle cx="415.1" cy="349.7" r="1.75"/>
<circle cx="415.1" cy="353.6" r="1.75"/>
<circle cx="415.1" cy="389.1" r="1.75"/>
<circle cx="415.1" cy="393.0" r="1.75"/>
<circle cx="415.1" cy="396.9" r="1.75"/>
<circle cx="417.0" cy="48.2" r="1.75"/>
<circle cx="417.0" cy="186.2" r="1.75"/>
<circle cx="417.0" cy="190.1" r="1.75"/>
<circle cx="417.0" cy="201.9" r="1.75"/>
<circle cx="417.0" cy="205.8" r="1.75"/>
<circle cx="417.0" cy="209.8" r="1.75"/>
<circle cx="417.0" cy="221.6" r="1.75"/>
<circle cx="417.0" cy="347.7" r="1.75"/>
<circle cx="417.0" cy="351.6" r="1.75"/>
<circle cx="417.0" cy="387.1" r="1.75"/>
<circle cx="417.0" cy="391.0" r="1.75"/>
<circle cx="417.0" cy="395.0" r="1.75"/>
<circle cx="417.0" cy="398.9" r="1.75"/>
<circle cx="419.0" cy="46.3" r="1.75"/>
<circle cx="419.0" cy="81.7" r="1.75"/>
<circle cx="419.0" cy="97.5" r="1.75"/>
<circle cx="419.0" cy="140.8" r="1.75"/>
<circle cx="419.0" cy="188.1" r="1.75"/>
<circle cx="419.0" cy="199.9" r="1.75"/>
<circle cx="419.0" cy="203.9" r="1.75"/>
<circle cx="419.0" cy="207.8" r="1.75"/>
<circle cx="419.0" cy="211.8" r="1.75"/>
<circle cx="419.0" cy="219.6" r="1.75"/>
<circle cx="419.0" cy="223.6" r="1.75"/>
<circle cx="419.0" cy="389.1" r="1.75"/>
<circle cx="419.0" cy="393.0" r="1.75"/>
<circle cx="419.0" cy="396.9" r="1.75"/>
<circle cx="421.0" cy="40.4" r="1.75"/>
<circle cx="421.0" cy="44.3" r="1.75"/>
<circle cx="421.0" cy="79.8" r="1.75"/>
<circle cx="421.0" cy="95.5" r="1.75"/>
<circle cx="421.0" cy="99.5" r="1.75"/>
<circle cx="421.0" cy="138.9" r="1.75"/>
<circle cx="421.0" cy="142.8" r="1.75"/>
<circle cx="421.0" cy="201.9" r="1.75"/>
<circle cx="421.0" cy="205.8" r="1.75"/>
<circle cx="421.0" cy="209.8" r="1.75"/>
<circle cx="421.0" cy="221.6" r="1.75"/>
<circle cx="421.0" cy="225.6" r="1.75"/>
<circle cx="422.9" cy="42.3" r="1.75"/>
<circle cx="422.9" cy="77.8" r="1.75"/>
<circle cx="422.9" cy="97.5" r="1.75"/>
<circle cx="422.9" cy="136.9" r="1.75"/>
<circle cx="422.9" cy="140.8" r="1.75"/>
<circle cx="422.9" cy="219.6" r="1.75"/>
<circle cx="422.9" cy="223.6" r="1.75"/>
<circle cx="422.9" cy="389.1" r="1.75"/>
<circle cx="424.9" cy="40.4" r="1.75"/>
<circle cx="424.9" cy="75.8" r="1.75"/>
<circle cx="424.9" cy="79.8" r="1.75"/>
<circle cx="424.9" cy="95.5" r="1.75"/>
<circle cx="424.9" cy="134.9" r="1.75"/>
<circle cx="424.9" cy="138.9" r="1.75"/>
<circle cx="424.9" cy="221.6" r="1.75"/>
<circle cx="424.9" cy="264.9" r="1.75"/>
<circle cx="424.9" cy="288.6" r="1.75"/>
<circle cx="426.9" cy="77.8" r="1.75"/>
<circle cx="426.9" cy="93.6" r="1.75"/>
<circle cx="426.9" cy="133.0" r="1.75"/>
<circle cx="426.9" cy="136.9" r="1.75"/>
<circle cx="426.9" cy="263.0" r="1.75"/>
<circle cx="426.9" cy="266.9" r="1.75"/>
<circle cx="426.9" cy="286.6" r="1.75"/>
<circle cx="426.9" cy="290.6" r="1.75"/>
<circle cx="426.9" cy="306.3" r="1.75"/>
<circle cx="426.9" cy="365.4" r="1.75"/>
<circle cx="426.9" cy="420.6" r="1.75"/>
<circle cx="428.9" cy="60.1" r="1.75"/>
<circle cx="428.9" cy="79.8" r="1.75"/>
<circle cx="428.9" cy="95.5" r="1.75"/>
<circle cx="428.9" cy="134.9" r="1.75"/>
<circle cx="428.9" cy="261.0" r="1.75"/>
<circle cx="428.9" cy="264.9" r="1.75"/>
<circle cx="428.9" cy="288.6" r="1.75"/>
<circle cx="428.9" cy="304.3" r="1.75"/>
<circle cx="428.9" cy="308.3" r="1.75"/>
<circle cx="428.9" cy="363.4" r="1.75"/>
<circle cx="428.9" cy="367.4" r="1.75"/>
<circle cx="430.8" cy="58.1" r="1.75"/>
<circle cx="430.8" cy="77.8" r="1.75"/>
<circle cx="430.8" cy="97.5" r="1.75"/>
<circle cx="430.8" cy="160.5" r="1.75"/>
<circle cx="430.8" cy="164.5" r="1.75"/>
<circle cx="430.8" cy="259.0" r="1.75"/>
<circle cx="430.8" cy="306.3" r="1.75"/>
<circle cx="430.8" cy="365.4" r="1.75"/>
<circle cx="432.8" cy="56.1" r="1.75"/>
<circle cx="432.8" cy="95.5" r="1.75"/>
<circle cx="432.8" cy="99.5" r="1.75"/>
<circle cx="432.8" cy="158.6" r="1.75"/>
<circle cx="432.8" cy="162.5" r="1.75"/>
<circle cx="432.8" cy="166.5" r="1.75"/>
<circle cx="432.8" cy="229.5" r="1.75"/>
<circle cx="432.8" cy="253.1" r="1.75"/>
<circle cx="432.8" cy="257.1" r="1.75"/>
<circle cx="432.8" cy="304.3" r="1.75"/>
<circle cx="432.8" cy="308.3" r="1.75"/>
<circle cx="434.8" cy="54.2" r="1.75"/>
<circle cx="434.8" cy="164.5" r="1.75"/>
<circle cx="434.8" cy="227.5" r="1.75"/>
<circle cx="434.8" cy="231.5" r="1.75"/>
<circle cx="434.8" cy="255.1" r="1.75"/>
<circle cx="434.8" cy="266.9" r="1.75"/>
<circle cx="434.8" cy="306.3" r="1.75"/>
<circle cx="436.7" cy="52.2" r="1.75"/>
<circle cx="436.7" cy="166.5" r="1.75"/>
<circle cx="436.7" cy="186.2" r="1.75"/>
<circle cx="436.7" cy="190.1" r="1.75"/>
<circle cx="436.7" cy="229.5" r="1.75"/>
<circle cx="436.7" cy="237.4" r="1.75"/>
<circle cx="436.7" cy="264.9" r="1.75"/>
<circle cx="436.7" cy="268.9" r="1.75"/>
<circle cx="436.7" cy="308.3" r="1.75"/>
<circle cx="438.7" cy="54.2" r="1.75"/>
<circle cx="438.7" cy="81.7" r="1.75"/>
<circle cx="438.7" cy="164.5" r="1.75"/>
<circle cx="438.7" cy="168.4" r="1.75"/>
<circle cx="438.7" cy="184.2" r="1.75"/>
<circle cx="438.7" cy="188.1" r="1.75"/>
<circle cx="438.7" cy="192.1" r="1.75"/>
<circle cx="438.7" cy="227.5" r="1.75"/>
<circle cx="438.7" cy="231.5" r="1.75"/>
<circle cx="438.7" cy="235.4" r="1.75"/>
<circle cx="438.7" cy="239.3" r="1.75"/>
<circle cx="438.7" cy="266.9" r="1.75"/>
<circle cx="438.7" cy="270.9" r="1.75"/>
<circle cx="438.7" cy="286.6" r="1.75"/>
<circle cx="438.7" cy="337.8" r="1.75"/>
<circle cx="438.7" cy="341.8" r="1.75"/>
<circle cx="440.7" cy="79.8" r="1.75"/>
<circle cx="440.7" cy="83.7" r="1.75"/>
<circle cx="440.7" cy="142.8" r="1.75"/>
<circle cx="440.7" cy="166.5" r="1.75"/>
<circle cx="440.7" cy="186.2" r="1.75"/>
<circle cx="440.7" cy="190.1" r="1.75"/>
<circle cx="440.7" cy="194.0" r="1.75"/>
<circle cx="440.7" cy="225.6" r="1.75"/>
<circle cx="440.7" cy="233.4" r="1.75"/>
<circle cx="440.7" cy="237.4" r="1.75"/>
<circle cx="440.7" cy="241.3" r="1.75"/>
<circle cx="440.7" cy="268.9" r="1.75"/>
<circle cx="440.7" cy="272.8" r="1.75"/>
<circle cx="440.7" cy="284.6" r="1.75"/>
<circle cx="440.7" cy="288.6" r="1.75"/>
<circle cx="440.7" cy="292.5" r="1.75"/>
<circle cx="440.7" cy="328.0" r="1.75"/>
<circle cx="440.7" cy="335.9" r="1.75"/>
<circle cx="440.7" cy="339.8" r="1.75"/>
<circle cx="440.7" cy="343.8" r="1.75"/>
<circle cx="440.7" cy="347.7" r="1.75"/>
<circle cx="440.7" cy="402.8" r="1.75"/>
<circle cx="442.6" cy="81.7" r="1.75"/>
<circle cx="442.6" cy="125.1" r="1.75"/>
<circle cx="442.6" cy="129.0" r="1.75"/>
<circle cx="442.6" cy="140.8" r="1.75"/>
<circle cx="442.6" cy="144.8" r="1.75"/>
<circle cx="442.6" cy="168.4" r="1.75"/>
<circle cx="442.6" cy="188.1" r="1.75"/>
<circle cx="442.6" cy="192.1" r="1.75"/>
<circle cx="442.6" cy="270.9" r="1.75"/>
<circle cx="442.6" cy="274.8" r="1.75"/>
<circle cx="442.6" cy="282.7" r="1.75"/>
<circle cx="442.6" cy="286.6" r="1.75"/>
<circle cx="442.6" cy="290.6" r="1.75"/>
<circle cx="442.6" cy="294.5" r="1.75"/>
<circle cx="442.6" cy="326.0" r="1.75"/>
<circle cx="442.6" cy="330.0" r="1.75"/>
<circle cx="442.6" cy="337.8" r="1.75"/>
<circle cx="442.6" cy="341.8" r="1.75"/>
<circle cx="442.6" cy="345.7" r="1.75"/>
<circle cx="442.6" cy="404.8" r="1.75"/>
<circle cx="444.6" cy="119.2" r="1.75"/>
<circle cx="444.6" cy="123.1" r="1.75"/>
<circle cx="444.6" cy="127.1" r="1.75"/>
<circle cx="444.6" cy="142.8" r="1.75"/>
<circle cx="444.6" cy="166.5" r="1.75"/>
<circle cx="444.6" cy="190.1" r="1.75"/>
<circle cx="444.6" cy="272.8" r="1.75"/>
<circle cx="444.6" cy="276.8" r="1.75"/>
<circle cx="444.6" cy="284.6" r="1.75"/>
<circle cx="444.6" cy="288.6" r="1.75"/>
<circle cx="444.6" cy="292.5" r="1.75"/>
<circle cx="444.6" cy="296.5" r="1.75"/>
<circle cx="444.6" cy="328.0" r="1.75"/>
<circle cx="444.6" cy="402.8" r="1.75"/>
<circle cx="446.6" cy="117.2" r="1.75"/>
<circle cx="446.6" cy="121.1" r="1.75"/>
<circle cx="446.6" cy="144.8" r="1.75"/>
<circle cx="446.6" cy="168.4" r="1.75"/>
<circle cx="446.6" cy="274.8" r="1.75"/>
<circle cx="446.6" cy="278.7" r="1.75"/>
<circle cx="446.6" cy="294.5" r="1.75"/>
<circle cx="446.6" cy="298.4" r="1.75"/>
<circle cx="446.6" cy="400.9" r="1.75"/>
<circle cx="448.6" cy="103.4" r="1.75"/>
<circle cx="448.6" cy="146.8" r="1.75"/>
<circle cx="448.6" cy="166.5" r="1.75"/>
<circle cx="448.6" cy="170.4" r="1.75"/>
<circle cx="448.6" cy="276.8" r="1.75"/>
<circle cx="448.6" cy="296.5" r="1.75"/>
<circle cx="448.6" cy="402.8" r="1.75"/>
<circle cx="448.6" cy="418.6" r="1.75"/>
<circle cx="450.5" cy="105.4" r="1.75"/>
<circle cx="450.5" cy="148.7" r="1.75"/>
<circle cx="450.5" cy="168.4" r="1.75"/>
<circle cx="450.5" cy="373.3" r="1.75"/>
<circle cx="450.5" cy="377.2" r="1.75"/>
<circle cx="450.5" cy="416.6" r="1.75"/>
<circle cx="452.5" cy="107.3" r="1.75"/>
<circle cx="452.5" cy="150.7" r="1.75"/>
<circle cx="452.5" cy="201.9" r="1.75"/>
<circle cx="452.5" cy="375.3" r="1.75"/>
<circle cx="452.5" cy="418.6" r="1.75"/>
<circle cx="454.5" cy="109.3" r="1.75"/>
<circle cx="454.5" cy="152.7" r="1.75"/>
<circle cx="454.5" cy="203.9" r="1.75"/>
<circle cx="454.5" cy="266.9" r="1.75"/>
<circle cx="454.5" cy="270.9" r="1.75"/>
<circle cx="454.5" cy="385.1" r="1.75"/>
<circle cx="456.4" cy="48.2" r="1.75"/>
<circle cx="456.4" cy="111.3" r="1.75"/>
<circle cx="456.4" cy="205.8" r="1.75"/>
<circle cx="456.4" cy="264.9" r="1.75"/>
<circle cx="456.4" cy="268.9" r="1.75"/>
<circle cx="456.4" cy="272.8" r="1.75"/>
<circle cx="456.4" cy="324.0" r="1.75"/>
<circle cx="456.4" cy="383.1" r="1.75"/>
<circle cx="456.4" cy="387.1" r="1.75"/>
<circle cx="458.4" cy="46.3" r="1.75"/>
<circle cx="458.4" cy="81.7" r="1.75"/>
<circle cx="458.4" cy="85.7" r="1.75"/>
<circle cx="458.4" cy="89.6" r="1.75"/>
<circle cx="458.4" cy="93.6" r="1.75"/>
<circle cx="458.4" cy="113.3" r="1.75"/>
<circle cx="458.4" cy="129.0" r="1.75"/>
<circle cx="458.4" cy="207.8" r="1.75"/>
<circle cx="458.4" cy="211.8" r="1.75"/>
<circle cx="458.4" cy="215.7" r="1.75"/>
<circle cx="458.4" cy="266.9" r="1.75"/>
<circle cx="458.4" cy="270.9" r="1.75"/>
<circle cx="458.4" cy="322.1" r="1.75"/>
<circle cx="458.4" cy="326.0" r="1.75"/>
<circle cx="458.4" cy="385.1" r="1.75"/>
<circle cx="458.4" cy="389.1" r="1.75"/>
<circle cx="460.4" cy="44.3" r="1.75"/>
<circle cx="460.4" cy="48.2" r="1.75"/>
<circle cx="460.4" cy="79.8" r="1.75"/>
<circle cx="460.4" cy="83.7" r="1.75"/>
<circle cx="460.4" cy="87.7" r="1.75"/>
<circle cx="460.4" cy="91.6" r="1.75"/>
<circle cx="460.4" cy="115.2" r="1.75"/>
<circle cx="460.4" cy="127.1" r="1.75"/>
<circle cx="460.4" cy="131.0" r="1.75"/>
<circle cx="460.4" cy="150.7" r="1.75"/>
<circle cx="460.4" cy="170.4" r="1.75"/>
<circle cx="460.4" cy="205.8" r="1.75"/>
<circle cx="460.4" cy="209.8" r="1.75"/>
<circle cx="460.4" cy="213.7" r="1.75"/>
<circle cx="460.4" cy="320.1" r="1.75"/>
<circle cx="460.4" cy="324.0" r="1.75"/>
<circle cx="460.4" cy="383.1" r="1.75"/>
<circle cx="460.4" cy="387.1" r="1.75"/>
<circle cx="462.3" cy="46.3" r="1.75"/>
<circle cx="462.3" cy="81.7" r="1.75"/>
<circle cx="462.3" cy="85.7" r="1.75"/>
<circle cx="462.3" cy="89.6" r="1.75"/>
<circle cx="462.3" cy="113.3" r="1.75"/>
<circle cx="462.3" cy="125.1" r="1.75"/>
<circle cx="462.3" cy="129.0" r="1.75"/>
<circle cx="462.3" cy="148.7" r="1.75"/>
<circle cx="462.3" cy="152.7" r="1.75"/>
<circle cx="462.3" cy="168.4" r="1.75"/>
<circle cx="462.3" cy="172.4" r="1.75"/>
<circle cx="462.3" cy="203.9" r="1.75"/>
<circle cx="462.3" cy="247.2" r="1.75"/>
<circle cx="462.3" cy="322.1" r="1.75"/>
<circle cx="462.3" cy="353.6" r="1.75"/>
<circle cx="462.3" cy="381.2" r="1.75"/>
<circle cx="462.3" cy="385.1" r="1.75"/>
<circle cx="464.3" cy="44.3" r="1.75"/>
<circle cx="464.3" cy="48.2" r="1.75"/>
<circle cx="464.3" cy="83.7" r="1.75"/>
<circle cx="464.3" cy="87.7" r="1.75"/>
<circle cx="464.3" cy="91.6" r="1.75"/>
<circle cx="464.3" cy="150.7" r="1.75"/>
<circle cx="464.3" cy="166.5" r="1.75"/>
<circle cx="464.3" cy="170.4" r="1.75"/>
<circle cx="464.3" cy="174.3" r="1.75"/>
<circle cx="464.3" cy="201.9" r="1.75"/>
<circle cx="464.3" cy="205.8" r="1.75"/>
<circle cx="464.3" cy="245.2" r="1.75"/>
<circle cx="464.3" cy="249.2" r="1.75"/>
<circle cx="464.3" cy="351.6" r="1.75"/>
<circle cx="464.3" cy="355.6" r="1.75"/>
<circle cx="464.3" cy="375.3" r="1.75"/>
<circle cx="464.3" cy="379.2" r="1.75"/>
<circle cx="464.3" cy="383.1" r="1.75"/>
<circle cx="464.3" cy="387.1" r="1.75"/>
<circle cx="466.3" cy="46.3" r="1.75"/>
<circle cx="466.3" cy="85.7" r="1.75"/>
<circle cx="466.3" cy="89.6" r="1.75"/>
<circle cx="466.3" cy="168.4" r="1.75"/>
<circle cx="466.3" cy="172.4" r="1.75"/>
<circle cx="466.3" cy="176.3" r="1.75"/>
<circle cx="466.3" cy="203.9" r="1.75"/>
<circle cx="466.3" cy="251.2" r="1.75"/>
<circle cx="466.3" cy="353.6" r="1.75"/>
<circle cx="466.3" cy="377.2" r="1.75"/>
<circle cx="466.3" cy="381.2" r="1.75"/>
<circle cx="466.3" cy="412.7" r="1.75"/>
<circle cx="466.3" cy="416.6" r="1.75"/>
<circle cx="468.2" cy="170.4" r="1.75"/>
<circle cx="468.2" cy="174.3" r="1.75"/>
<circle cx="468.2" cy="178.3" r="1.75"/>
<circle cx="468.2" cy="201.9" r="1.75"/>
<circle cx="468.2" cy="229.5" r="1.75"/>
<circle cx="468.2" cy="253.1" r="1.75"/>
<circle cx="468.2" cy="257.1" r="1.75"/>
<circle cx="468.2" cy="261.0" r="1.75"/>
<circle cx="468.2" cy="280.7" r="1.75"/>
<circle cx="468.2" cy="284.6" r="1.75"/>
<circle cx="468.2" cy="351.6" r="1.75"/>
<circle cx="468.2" cy="355.6" r="1.75"/>
<circle cx="468.2" cy="375.3" r="1.75"/>
<circle cx="468.2" cy="379.2" r="1.75"/>
<circle cx="468.2" cy="414.7" r="1.75"/>
<circle cx="468.2" cy="418.6" r="1.75"/>
<circle cx="470.2" cy="172.4" r="1.75"/>
<circle cx="470.2" cy="176.3" r="1.75"/>
<circle cx="470.2" cy="231.5" r="1.75"/>
<circle cx="470.2" cy="255.1" r="1.75"/>
<circle cx="470.2" cy="259.0" r="1.75"/>
<circle cx="470.2" cy="278.7" r="1.75"/>
<circle cx="470.2" cy="282.7" r="1.75"/>
<circle cx="470.2" cy="286.6" r="1.75"/>
<circle cx="470.2" cy="353.6" r="1.75"/>
<circle cx="470.2" cy="377.2" r="1.75"/>
<circle cx="470.2" cy="381.2" r="1.75"/>
<circle cx="470.2" cy="416.6" r="1.75"/>
<circle cx="472.2" cy="233.4" r="1.75"/>
<circle cx="472.2" cy="280.7" r="1.75"/>
<circle cx="472.2" cy="284.6" r="1.75"/>
<circle cx="472.2" cy="300.4" r="1.75"/>
<circle cx="472.2" cy="351.6" r="1.75"/>
<circle cx="472.2" cy="355.6" r="1.75"/>
<circle cx="472.2" cy="418.6" r="1.75"/>
<circle cx="474.2" cy="235.4" r="1.75"/>
<circle cx="474.2" cy="239.3" r="1.75"/>
<circle cx="474.2" cy="302.4" r="1.75"/>
<circle cx="474.2" cy="318.1" r="1.75"/>
<circle cx="474.2" cy="353.6" r="1.75"/>
<circle cx="476.1" cy="123.1" r="1.75"/>
<circle cx="476.1" cy="241.3" r="1.75"/>
<circle cx="476.1" cy="300.4" r="1.75"/>
<circle cx="476.1" cy="316.2" r="1.75"/>
<circle cx="476.1" cy="320.1" r="1.75"/>
<circle cx="476.1" cy="324.0" r="1.75"/>
<circle cx="476.1" cy="351.6" r="1.75"/>
<circle cx="476.1" cy="355.6" r="1.75"/>
<circle cx="478.1" cy="121.1" r="1.75"/>
<circle cx="478.1" cy="125.1" r="1.75"/>
<circle cx="478.1" cy="239.3" r="1.75"/>
<circle cx="478.1" cy="318.1" r="1.75"/>
<circle cx="478.1" cy="322.1" r="1.75"/>
<circle cx="478.1" cy="326.0" r="1.75"/>
<circle cx="478.1" cy="353.6" r="1.75"/>
<circle cx="480.1" cy="119.2" r="1.75"/>
<circle cx="480.1" cy="123.1" r="1.75"/>
<circle cx="480.1" cy="237.4" r="1.75"/>
<circle cx="480.1" cy="324.0" r="1.75"/>
<circle cx="480.1" cy="328.0" r="1.75"/>
<circle cx="482.0" cy="46.3" r="1.75"/>
<circle cx="482.0" cy="50.2" r="1.75"/>
<circle cx="482.0" cy="117.2" r="1.75"/>
<circle cx="482.0" cy="121.1" r="1.75"/>
<circle cx="482.0" cy="215.7" r="1.75"/>
<circle cx="482.0" cy="235.4" r="1.75"/>
<circle cx="482.0" cy="239.3" r="1.75"/>
<circle cx="482.0" cy="365.4" r="1.75"/>
<circle cx="484.0" cy="44.3" r="1.75"/>
<circle cx="484.0" cy="48.2" r="1.75"/>
<circle cx="484.0" cy="52.2" r="1.75"/>
<circle cx="484.0" cy="115.2" r="1.75"/>
<circle cx="484.0" cy="119.2" r="1.75"/>
<circle cx="484.0" cy="213.7" r="1.75"/>
<circle cx="484.0" cy="217.7" r="1.75"/>
<circle cx="484.0" cy="237.4" r="1.75"/>
<circle cx="484.0" cy="241.3" r="1.75"/>
<circle cx="484.0" cy="363.4" r="1.75"/>
<circle cx="484.0" cy="367.4" r="1.75"/>
<circle cx="484.0" cy="414.7" r="1.75"/>
<circle cx="486.0" cy="46.3" r="1.75"/>
<circle cx="486.0" cy="50.2" r="1.75"/>
<circle cx="486.0" cy="58.1" r="1.75"/>
<circle cx="486.0" cy="62.0" r="1.75"/>
<circle cx="486.0" cy="117.2" r="1.75"/>
<circle cx="486.0" cy="176.3" r="1.75"/>
<circle cx="486.0" cy="215.7" r="1.75"/>
<circle cx="486.0" cy="239.3" r="1.75"/>
<circle cx="486.0" cy="365.4" r="1.75"/>
<circle cx="488.0" cy="56.1" r="1.75"/>
<circle cx="488.0" cy="60.1" r="1.75"/>
<circle cx="488.0" cy="75.8" r="1.75"/>
<circle cx="488.0" cy="95.5" r="1.75"/>
<circle cx="488.0" cy="99.5" r="1.75"/>
<circle cx="488.0" cy="115.2" r="1.75"/>
<circle cx="488.0" cy="119.2" r="1.75"/>
<circle cx="488.0" cy="174.3" r="1.75"/>
<circle cx="488.0" cy="178.3" r="1.75"/>
<circle cx="489.9" cy="58.1" r="1.75"/>
<circle cx="489.9" cy="73.9" r="1.75"/>
<circle cx="489.9" cy="77.8" r="1.75"/>
<circle cx="489.9" cy="93.6" r="1.75"/>
<circle cx="489.9" cy="97.5" r="1.75"/>
<circle cx="489.9" cy="101.4" r="1.75"/>
<circle cx="489.9" cy="117.2" r="1.75"/>
<circle cx="489.9" cy="121.1" r="1.75"/>
<circle cx="489.9" cy="176.3" r="1.75"/>
<circle cx="489.9" cy="326.0" r="1.75"/>
<circle cx="491.9" cy="75.8" r="1.75"/>
<circle cx="491.9" cy="95.5" r="1.75"/>
<circle cx="491.9" cy="99.5" r="1.75"/>
<circle cx="491.9" cy="119.2" r="1.75"/>
<circle cx="491.9" cy="158.6" r="1.75"/>
<circle cx="491.9" cy="304.3" r="1.75"/>
<circle cx="491.9" cy="324.0" r="1.75"/>
<circle cx="491.9" cy="339.8" r="1.75"/>
<circle cx="493.9" cy="73.9" r="1.75"/>
<circle cx="493.9" cy="77.8" r="1.75"/>
<circle cx="493.9" cy="160.5" r="1.75"/>
<circle cx="493.9" cy="184.2" r="1.75"/>
<circle cx="493.9" cy="290.6" r="1.75"/>
<circle cx="493.9" cy="302.4" r="1.75"/>
<circle cx="493.9" cy="306.3" r="1.75"/>
<circle cx="493.9" cy="322.1" r="1.75"/>
<circle cx="493.9" cy="326.0" r="1.75"/>
<circle cx="493.9" cy="337.8" r="1.75"/>
<circle cx="493.9" cy="341.8" r="1.75"/>
<circle cx="495.8" cy="40.4" r="1.75"/>
<circle cx="495.8" cy="75.8" r="1.75"/>
<circle cx="495.8" cy="138.9" r="1.75"/>
<circle cx="495.8" cy="158.6" r="1.75"/>
<circle cx="495.8" cy="162.5" r="1.75"/>
<circle cx="495.8" cy="182.2" r="1.75"/>
<circle cx="495.8" cy="186.2" r="1.75"/>
<circle cx="495.8" cy="288.6" r="1.75"/>
<circle cx="495.8" cy="292.5" r="1.75"/>
<circle cx="495.8" cy="304.3" r="1.75"/>
<circle cx="495.8" cy="324.0" r="1.75"/>
<circle cx="495.8" cy="339.8" r="1.75"/>
<circle cx="497.8" cy="38.4" r="1.75"/>
<circle cx="497.8" cy="42.3" r="1.75"/>
<circle cx="497.8" cy="73.9" r="1.75"/>
<circle cx="497.8" cy="77.8" r="1.75"/>
<circle cx="497.8" cy="136.9" r="1.75"/>
<circle cx="497.8" cy="140.8" r="1.75"/>
<circle cx="497.8" cy="144.8" r="1.75"/>
<circle cx="497.8" cy="160.5" r="1.75"/>
<circle cx="497.8" cy="184.2" r="1.75"/>
<circle cx="497.8" cy="290.6" r="1.75"/>
<circle cx="497.8" cy="302.4" r="1.75"/>
<circle cx="499.8" cy="40.4" r="1.75"/>
<circle cx="499.8" cy="75.8" r="1.75"/>
<circle cx="499.8" cy="138.9" r="1.75"/>
<circle cx="499.8" cy="142.8" r="1.75"/>
<circle cx="499.8" cy="146.8" r="1.75"/>
<circle cx="499.8" cy="253.1" r="1.75"/>
<circle cx="499.8" cy="300.4" r="1.75"/>
<circle cx="499.8" cy="371.3" r="1.75"/>
<circle cx="499.8" cy="398.9" r="1.75"/>
<circle cx="501.7" cy="73.9" r="1.75"/>
<circle cx="501.7" cy="77.8" r="1.75"/>
<circle cx="501.7" cy="140.8" r="1.75"/>
<circle cx="501.7" cy="144.8" r="1.75"/>
<circle cx="501.7" cy="172.4" r="1.75"/>
<circle cx="501.7" cy="176.3" r="1.75"/>
<circle cx="501.7" cy="251.2" r="1.75"/>
<circle cx="501.7" cy="255.1" r="1.75"/>
<circle cx="501.7" cy="302.4" r="1.75"/>
<circle cx="501.7" cy="369.4" r="1.75"/>
<circle cx="501.7" cy="373.3" r="1.75"/>
<circle cx="501.7" cy="396.9" r="1.75"/>
<circle cx="501.7" cy="400.9" r="1.75"/>
<circle cx="503.7" cy="75.8" r="1.75"/>
<circle cx="503.7" cy="170.4" r="1.75"/>
<circle cx="503.7" cy="174.3" r="1.75"/>
<circle cx="503.7" cy="257.1" r="1.75"/>
<circle cx="503.7" cy="300.4" r="1.75"/>
<circle cx="503.7" cy="367.4" r="1.75"/>
<circle cx="503.7" cy="371.3" r="1.75"/>
<circle cx="503.7" cy="395.0" r="1.75"/>
<circle cx="503.7" cy="398.9" r="1.75"/>
<circle cx="503.7" cy="402.8" r="1.75"/>
<circle cx="503.7" cy="406.8" r="1.75"/>
<circle cx="505.7" cy="54.2" r="1.75"/>
<circle cx="505.7" cy="73.9" r="1.75"/>
<circle cx="505.7" cy="172.4" r="1.75"/>
<circle cx="505.7" cy="259.0" r="1.75"/>
<circle cx="505.7" cy="365.4" r="1.75"/>
<circle cx="505.7" cy="369.4" r="1.75"/>
<circle cx="505.7" cy="389.1" r="1.75"/>
<circle cx="505.7" cy="393.0" r="1.75"/>
<circle cx="505.7" cy="396.9" r="1.75"/>
<circle cx="505.7" cy="400.9" r="1.75"/>
<circle cx="505.7" cy="404.8" r="1.75"/>
<circle cx="507.7" cy="52.2" r="1.75"/>
<circle cx="507.7" cy="71.9" r="1.75"/>
<circle cx="507.7" cy="261.0" r="1.75"/>
<circle cx="507.7" cy="363.4" r="1.75"/>
<circle cx="507.7" cy="367.4" r="1.75"/>
<circle cx="507.7" cy="387.1" r="1.75"/>
<circle cx="507.7" cy="391.0" r="1.75"/>
<circle cx="507.7" cy="395.0" r="1.75"/>
<circle cx="507.7" cy="398.9" r="1.75"/>
<circle cx="507.7" cy="402.8" r="1.75"/>
<circle cx="507.7" cy="406.8" r="1.75"/>
<circle cx="509.6" cy="50.2" r="1.75"/>
<circle cx="509.6" cy="54.2" r="1.75"/>
<circle cx="509.6" cy="69.9" r="1.75"/>
<circle cx="509.6" cy="89.6" r="1.75"/>
<circle cx="509.6" cy="113.3" r="1.75"/>
<circle cx="509.6" cy="136.9" r="1.75"/>
<circle cx="509.6" cy="263.0" r="1.75"/>
<circle cx="509.6" cy="345.7" r="1.75"/>
<circle cx="509.6" cy="365.4" r="1.75"/>
<circle cx="509.6" cy="385.1" r="1.75"/>
<circle cx="509.6" cy="389.1" r="1.75"/>
<circle cx="509.6" cy="393.0" r="1.75"/>
<circle cx="509.6" cy="396.9" r="1.75"/>
<circle cx="511.6" cy="52.2" r="1.75"/>
<circle cx="511.6" cy="87.7" r="1.75"/>
<circle cx="511.6" cy="91.6" r="1.75"/>
<circle cx="511.6" cy="111.3" r="1.75"/>
<circle cx="511.6" cy="115.2" r="1.75"/>
<circle cx="511.6" cy="134.9" r="1.75"/>
<circle cx="511.6" cy="138.9" r="1.75"/>
<circle cx="511.6" cy="194.0" r="1.75"/>
<circle cx="511.6" cy="237.4" r="1.75"/>
<circle cx="511.6" cy="241.3" r="1.75"/>
<circle cx="511.6" cy="264.9" r="1.75"/>
<circle cx="511.6" cy="343.8" r="1.75"/>
<circle cx="511.6" cy="347.7" r="1.75"/>
<circle cx="511.6" cy="363.4" r="1.75"/>
<circle cx="513.6" cy="38.4" r="1.75"/>
<circle cx="513.6" cy="50.2" r="1.75"/>
<circle cx="513.6" cy="54.2" r="1.75"/>
<circle cx="513.6" cy="89.6" r="1.75"/>
<circle cx="513.6" cy="93.6" r="1.75"/>
<circle cx="513.6" cy="113.3" r="1.75"/>
<circle cx="513.6" cy="125.1" r="1.75"/>
<circle cx="513.6" cy="136.9" r="1.75"/>
<circle cx="513.6" cy="192.1" r="1.75"/>
<circle cx="513.6" cy="196.0" r="1.75"/>
<circle cx="513.6" cy="235.4" r="1.75"/>
<circle cx="513.6" cy="239.3" r="1.75"/>
<circle cx="513.6" cy="243.3" r="1.75"/>
<circle cx="513.6" cy="345.7" r="1.75"/>
<circle cx="513.6" cy="365.4" r="1.75"/>
<circle cx="515.5" cy="52.2" r="1.75"/>
<circle cx="515.5" cy="91.6" r="1.75"/>
<circle cx="515.5" cy="95.5" r="1.75"/>
<circle cx="515.5" cy="123.1" r="1.75"/>
<circle cx="515.5" cy="134.9" r="1.75"/>
<circle cx="515.5" cy="138.9" r="1.75"/>
<circle cx="515.5" cy="190.1" r="1.75"/>
<circle cx="515.5" cy="194.0" r="1.75"/>
<circle cx="515.5" cy="237.4" r="1.75"/>
<circle cx="515.5" cy="241.3" r="1.75"/>
<circle cx="515.5" cy="347.7" r="1.75"/>
<circle cx="517.5" cy="93.6" r="1.75"/>
<circle cx="517.5" cy="97.5" r="1.75"/>
<circle cx="517.5" cy="117.2" r="1.75"/>
<circle cx="517.5" cy="121.1" r="1.75"/>
<circle cx="517.5" cy="136.9" r="1.75"/>
<circle cx="517.5" cy="160.5" r="1.75"/>
<circle cx="517.5" cy="172.4" r="1.75"/>
<circle cx="517.5" cy="176.3" r="1.75"/>
<circle cx="517.5" cy="188.1" r="1.75"/>
<circle cx="517.5" cy="192.1" r="1.75"/>
<circle cx="517.5" cy="196.0" r="1.75"/>
<circle cx="517.5" cy="199.9" r="1.75"/>
<circle cx="517.5" cy="227.5" r="1.75"/>
<circle cx="517.5" cy="322.1" r="1.75"/>
<circle cx="517.5" cy="420.6" r="1.75"/>
<circle cx="519.5" cy="95.5" r="1.75"/>
<circle cx="519.5" cy="115.2" r="1.75"/>
<circle cx="519.5" cy="119.2" r="1.75"/>
<circle cx="519.5" cy="158.6" r="1.75"/>
<circle cx="519.5" cy="162.5" r="1.75"/>
<circle cx="519.5" cy="170.4" r="1.75"/>
<circle cx="519.5" cy="174.3" r="1.75"/>
<circle cx="519.5" cy="178.3" r="1.75"/>
<circle cx="519.5" cy="186.2" r="1.75"/>
<circle cx="519.5" cy="190.1" r="1.75"/>
<circle cx="519.5" cy="198.0" r="1.75"/>
<circle cx="519.5" cy="201.9" r="1.75"/>
<circle cx="519.5" cy="225.6" r="1.75"/>
<circle cx="519.5" cy="229.5" r="1.75"/>
<circle cx="519.5" cy="320.1" r="1.75"/>
<circle cx="519.5" cy="324.0" r="1.75"/>
<circle cx="519.5" cy="402.8" r="1.75"/>
<circle cx="519.5" cy="418.6" r="1.75"/>
<circle cx="521.4" cy="160.5" r="1.75"/>
<circle cx="521.4" cy="164.5" r="1.75"/>
<circle cx="521.4" cy="172.4" r="1.75"/>
<circle cx="521.4" cy="176.3" r="1.75"/>
<circle cx="521.4" cy="184.2" r="1.75"/>
<circle cx="521.4" cy="188.1" r="1.75"/>
<circle cx="521.4" cy="199.9" r="1.75"/>
<circle cx="521.4" cy="203.9" r="1.75"/>
<circle cx="521.4" cy="227.5" r="1.75"/>
<circle cx="521.4" cy="314.2" r="1.75"/>
<circle cx="521.4" cy="318.1" r="1.75"/>
<circle cx="521.4" cy="322.1" r="1.75"/>
<circle cx="521.4" cy="337.8" r="1.75"/>
<circle cx="521.4" cy="400.9" r="1.75"/>
<circle cx="521.4" cy="404.8" r="1.75"/>
<circle cx="523.4" cy="186.2" r="1.75"/>
<circle cx="523.4" cy="225.6" r="1.75"/>
<circle cx="523.4" cy="229.5" r="1.75"/>
<circle cx="523.4" cy="308.3" r="1.75"/>
<circle cx="523.4" cy="312.2" r="1.75"/>
<circle cx="523.4" cy="316.2" r="1.75"/>
<circle cx="523.4" cy="320.1" r="1.75"/>
<circle cx="523.4" cy="335.9" r="1.75"/>
<circle cx="523.4" cy="339.8" r="1.75"/>
<circle cx="523.4" cy="402.8" r="1.75"/>
<circle cx="525.4" cy="77.8" r="1.75"/>
<circle cx="525.4" cy="81.7" r="1.75"/>
<circle cx="525.4" cy="85.7" r="1.75"/>
<circle cx="525.4" cy="227.5" r="1.75"/>
<circle cx="525.4" cy="306.3" r="1.75"/>
<circle cx="525.4" cy="310.3" r="1.75"/>
<circle cx="525.4" cy="314.2" r="1.75"/>
<circle cx="525.4" cy="337.8" r="1.75"/>
<circle cx="525.4" cy="341.8" r="1.75"/>
<circle cx="527.4" cy="48.2" r="1.75"/>
<circle cx="527.4" cy="75.8" r="1.75"/>
<circle cx="527.4" cy="79.8" r="1.75"/>
<circle cx="527.4" cy="83.7" r="1.75"/>
<circle cx="527.4" cy="87.7" r="1.75"/>
<circle cx="527.4" cy="225.6" r="1.75"/>
<circle cx="527.4" cy="229.5" r="1.75"/>
<circle cx="527.4" cy="304.3" r="1.75"/>
<circle cx="527.4" cy="308.3" r="1.75"/>
<circle cx="527.4" cy="339.8" r="1.75"/>
<circle cx="527.4" cy="343.8" r="1.75"/>
<circle cx="527.4" cy="379.2" r="1.75"/>
<circle cx="527.4" cy="383.1" r="1.75"/>
<circle cx="529.3" cy="46.3" r="1.75"/>
<circle cx="529.3" cy="50.2" r="1.75"/>
<circle cx="529.3" cy="77.8" r="1.75"/>
<circle cx="529.3" cy="81.7" r="1.75"/>
<circle cx="529.3" cy="85.7" r="1.75"/>
<circle cx="529.3" cy="227.5" r="1.75"/>
<circle cx="529.3" cy="306.3" r="1.75"/>
<circle cx="529.3" cy="345.7" r="1.75"/>
<circle cx="529.3" cy="381.2" r="1.75"/>
<circle cx="531.3" cy="48.2" r="1.75"/>
<circle cx="531.3" cy="103.4" r="1.75"/>
<circle cx="531.3" cy="343.8" r="1.75"/>
<circle cx="531.3" cy="347.7" r="1.75"/>
<circle cx="531.3" cy="383.1" r="1.75"/>
<circle cx="533.3" cy="101.4" r="1.75"/>
<circle cx="533.3" cy="345.7" r="1.75"/>
<circle cx="533.3" cy="349.7" r="1.75"/>
<circle cx="533.3" cy="381.2" r="1.75"/>
<circle cx="535.2" cy="68.0" r="1.75"/>
<circle cx="535.2" cy="103.4" r="1.75"/>
<circle cx="535.2" cy="150.7" r="1.75"/>
<circle cx="535.2" cy="347.7" r="1.75"/>
<circle cx="535.2" cy="383.1" r="1.75"/>
<circle cx="535.2" cy="406.8" r="1.75"/>
<circle cx="537.2" cy="66.0" r="1.75"/>
<circle cx="537.2" cy="69.9" r="1.75"/>
<circle cx="537.2" cy="136.9" r="1.75"/>
<circle cx="537.2" cy="148.7" r="1.75"/>
<circle cx="537.2" cy="263.0" r="1.75"/>
<circle cx="537.2" cy="381.2" r="1.75"/>
<circle cx="537.2" cy="404.8" r="1.75"/>
<circle cx="537.2" cy="408.8" r="1.75"/>
<circle cx="539.2" cy="40.4" r="1.75"/>
<circle cx="539.2" cy="64.0" r="1.75"/>
<circle cx="539.2" cy="134.9" r="1.75"/>
<circle cx="539.2" cy="138.9" r="1.75"/>
<circle cx="539.2" cy="146.8" r="1.75"/>
<circle cx="539.2" cy="241.3" r="1.75"/>
<circle cx="539.2" cy="245.2" r="1.75"/>
<circle cx="539.2" cy="261.0" r="1.75"/>
<circle cx="539.2" cy="264.9" r="1.75"/>
<circle cx="539.2" cy="324.0" r="1.75"/>
<circle cx="539.2" cy="367.4" r="1.75"/>
<circle cx="539.2" cy="379.2" r="1.75"/>
<circle cx="539.2" cy="402.8" r="1.75"/>
<circle cx="539.2" cy="406.8" r="1.75"/>
<circle cx="539.2" cy="410.7" r="1.75"/>
<circle cx="541.1" cy="62.0" r="1.75"/>
<circle cx="541.1" cy="136.9" r="1.75"/>
<circle cx="541.1" cy="140.8" r="1.75"/>
<circle cx="541.1" cy="144.8" r="1.75"/>
<circle cx="541.1" cy="243.3" r="1.75"/>
<circle cx="541.1" cy="247.2" r="1.75"/>
<circle cx="541.1" cy="259.0" r="1.75"/>
<circle cx="541.1" cy="263.0" r="1.75"/>
<circle cx="541.1" cy="274.8" r="1.75"/>
<circle cx="541.1" cy="278.7" r="1.75"/>
<circle cx="541.1" cy="282.7" r="1.75"/>
<circle cx="541.1" cy="326.0" r="1.75"/>
<circle cx="541.1" cy="361.5" r="1.75"/>
<circle cx="541.1" cy="365.4" r="1.75"/>
<circle cx="541.1" cy="377.2" r="1.75"/>
<circle cx="541.1" cy="404.8" r="1.75"/>
<circle cx="541.1" cy="408.8" r="1.75"/>
<circle cx="543.1" cy="60.1" r="1.75"/>
<circle cx="543.1" cy="138.9" r="1.75"/>
<circle cx="543.1" cy="142.8" r="1.75"/>
<circle cx="543.1" cy="158.6" r="1.75"/>
<circle cx="543.1" cy="245.2" r="1.75"/>
<circle cx="543.1" cy="261.0" r="1.75"/>
<circle cx="543.1" cy="264.9" r="1.75"/>
<circle cx="543.1" cy="272.8" r="1.75"/>
<circle cx="543.1" cy="276.8" r="1.75"/>
<circle cx="543.1" cy="280.7" r="1.75"/>
<circle cx="543.1" cy="284.6" r="1.75"/>
<circle cx="543.1" cy="324.0" r="1.75"/>
<circle cx="543.1" cy="328.0" r="1.75"/>
<circle cx="543.1" cy="359.5" r="1.75"/>
<circle cx="543.1" cy="363.4" r="1.75"/>
<circle cx="543.1" cy="379.2" r="1.75"/>
<circle cx="543.1" cy="406.8" r="1.75"/>
<circle cx="543.1" cy="410.7" r="1.75"/>
<circle cx="545.1" cy="140.8" r="1.75"/>
<circle cx="545.1" cy="144.8" r="1.75"/>
<circle cx="545.1" cy="156.6" r="1.75"/>
<circle cx="545.1" cy="160.5" r="1.75"/>
<circle cx="545.1" cy="188.1" r="1.75"/>
<circle cx="545.1" cy="263.0" r="1.75"/>
<circle cx="545.1" cy="274.8" r="1.75"/>
<circle cx="545.1" cy="278.7" r="1.75"/>
<circle cx="545.1" cy="282.7" r="1.75"/>
<circle cx="545.1" cy="298.4" r="1.75"/>
<circle cx="545.1" cy="326.0" r="1.75"/>
<circle cx="545.1" cy="357.5" r="1.75"/>
<circle cx="545.1" cy="361.5" r="1.75"/>
<circle cx="545.1" cy="377.2" r="1.75"/>
<circle cx="545.1" cy="381.2" r="1.75"/>
<circle cx="545.1" cy="396.9" r="1.75"/>
<circle cx="547.0" cy="60.1" r="1.75"/>
<circle cx="547.0" cy="142.8" r="1.75"/>
<circle cx="547.0" cy="158.6" r="1.75"/>
<circle cx="547.0" cy="174.3" r="1.75"/>
<circle cx="547.0" cy="186.2" r="1.75"/>
<circle cx="547.0" cy="190.1" r="1.75"/>
<circle cx="547.0" cy="296.5" r="1.75"/>
<circle cx="547.0" cy="300.4" r="1.75"/>
<circle cx="547.0" cy="324.0" r="1.75"/>
<circle cx="547.0" cy="328.0" r="1.75"/>
<circle cx="547.0" cy="355.6" r="1.75"/>
<circle cx="547.0" cy="359.5" r="1.75"/>
<circle cx="547.0" cy="363.4" r="1.75"/>
<circle cx="547.0" cy="379.2" r="1.75"/>
<circle cx="547.0" cy="395.0" r="1.75"/>
<circle cx="549.0" cy="62.0" r="1.75"/>
<circle cx="549.0" cy="117.2" r="1.75"/>
<circle cx="549.0" cy="156.6" r="1.75"/>
<circle cx="549.0" cy="160.5" r="1.75"/>
<circle cx="549.0" cy="172.4" r="1.75"/>
<circle cx="549.0" cy="176.3" r="1.75"/>
<circle cx="549.0" cy="188.1" r="1.75"/>
<circle cx="549.0" cy="192.1" r="1.75"/>
<circle cx="549.0" cy="207.8" r="1.75"/>
<circle cx="549.0" cy="298.4" r="1.75"/>
<circle cx="549.0" cy="326.0" r="1.75"/>
<circle cx="549.0" cy="357.5" r="1.75"/>
<circle cx="549.0" cy="361.5" r="1.75"/>
<circle cx="549.0" cy="396.9" r="1.75"/>
<circle cx="551.0" cy="64.0" r="1.75"/>
<circle cx="551.0" cy="115.2" r="1.75"/>
<circle cx="551.0" cy="119.2" r="1.75"/>
<circle cx="551.0" cy="123.1" r="1.75"/>
<circle cx="551.0" cy="158.6" r="1.75"/>
<circle cx="551.0" cy="174.3" r="1.75"/>
<circle cx="551.0" cy="190.1" r="1.75"/>
<circle cx="551.0" cy="194.0" r="1.75"/>
<circle cx="551.0" cy="205.8" r="1.75"/>
<circle cx="551.0" cy="209.8" r="1.75"/>
<circle cx="551.0" cy="229.5" r="1.75"/>
<circle cx="551.0" cy="296.5" r="1.75"/>
<circle cx="551.0" cy="300.4" r="1.75"/>
<circle cx="551.0" cy="395.0" r="1.75"/>
<circle cx="551.0" cy="398.9" r="1.75"/>
<circle cx="553.0" cy="62.0" r="1.75"/>
<circle cx="553.0" cy="97.5" r="1.75"/>
<circle cx="553.0" cy="117.2" r="1.75"/>
<circle cx="553.0" cy="121.1" r="1.75"/>
<circle cx="553.0" cy="156.6" r="1.75"/>
<circle cx="553.0" cy="160.5" r="1.75"/>
<circle cx="553.0" cy="172.4" r="1.75"/>
<circle cx="553.0" cy="176.3" r="1.75"/>
<circle cx="553.0" cy="192.1" r="1.75"/>
<circle cx="553.0" cy="207.8" r="1.75"/>
<circle cx="553.0" cy="227.5" r="1.75"/>
<circle cx="553.0" cy="231.5" r="1.75"/>
<circle cx="553.0" cy="298.4" r="1.75"/>
<circle cx="553.0" cy="396.9" r="1.75"/>
<circle cx="554.9" cy="95.5" r="1.75"/>
<circle cx="554.9" cy="99.5" r="1.75"/>
<circle cx="554.9" cy="158.6" r="1.75"/>
<circle cx="554.9" cy="174.3" r="1.75"/>
<circle cx="554.9" cy="225.6" r="1.75"/>
<circle cx="554.9" cy="229.5" r="1.75"/>
<circle cx="554.9" cy="296.5" r="1.75"/>
<circle cx="554.9" cy="300.4" r="1.75"/>
<circle cx="554.9" cy="347.7" r="1.75"/>
<circle cx="554.9" cy="410.7" r="1.75"/>
<circle cx="556.9" cy="97.5" r="1.75"/>
<circle cx="556.9" cy="129.0" r="1.75"/>
<circle cx="556.9" cy="156.6" r="1.75"/>
<circle cx="556.9" cy="223.6" r="1.75"/>
<circle cx="556.9" cy="227.5" r="1.75"/>
<circle cx="556.9" cy="266.9" r="1.75"/>
<circle cx="556.9" cy="302.4" r="1.75"/>
<circle cx="556.9" cy="345.7" r="1.75"/>
<circle cx="556.9" cy="349.7" r="1.75"/>
<circle cx="556.9" cy="412.7" r="1.75"/>
<circle cx="558.9" cy="95.5" r="1.75"/>
<circle cx="558.9" cy="99.5" r="1.75"/>
<circle cx="558.9" cy="127.1" r="1.75"/>
<circle cx="558.9" cy="131.0" r="1.75"/>
<circle cx="558.9" cy="154.6" r="1.75"/>
<circle cx="558.9" cy="221.6" r="1.75"/>
<circle cx="558.9" cy="225.6" r="1.75"/>
<circle cx="558.9" cy="264.9" r="1.75"/>
<circle cx="558.9" cy="268.9" r="1.75"/>
<circle cx="558.9" cy="304.3" r="1.75"/>
<circle cx="558.9" cy="324.0" r="1.75"/>
<circle cx="558.9" cy="343.8" r="1.75"/>
<circle cx="558.9" cy="347.7" r="1.75"/>
<circle cx="558.9" cy="351.6" r="1.75"/>
<circle cx="558.9" cy="410.7" r="1.75"/>
<circle cx="558.9" cy="414.7" r="1.75"/>
<circle cx="560.8" cy="97.5" r="1.75"/>
<circle cx="560.8" cy="129.0" r="1.75"/>
<circle cx="560.8" cy="140.8" r="1.75"/>
<circle cx="560.8" cy="223.6" r="1.75"/>
<circle cx="560.8" cy="247.2" r="1.75"/>
<circle cx="560.8" cy="263.0" r="1.75"/>
<circle cx="560.8" cy="266.9" r="1.75"/>
<circle cx="560.8" cy="270.9" r="1.75"/>
<circle cx="560.8" cy="306.3" r="1.75"/>
<circle cx="560.8" cy="322.1" r="1.75"/>
<circle cx="560.8" cy="326.0" r="1.75"/>
<circle cx="560.8" cy="341.8" r="1.75"/>
<circle cx="560.8" cy="345.7" r="1.75"/>
<circle cx="560.8" cy="349.7" r="1.75"/>
<circle cx="560.8" cy="389.1" r="1.75"/>
<circle cx="560.8" cy="412.7" r="1.75"/>
<circle cx="562.8" cy="95.5" r="1.75"/>
<circle cx="562.8" cy="99.5" r="1.75"/>
<circle cx="562.8" cy="103.4" r="1.75"/>
<circle cx="562.8" cy="138.9" r="1.75"/>
<circle cx="562.8" cy="245.2" r="1.75"/>
<circle cx="562.8" cy="249.2" r="1.75"/>
<circle cx="562.8" cy="264.9" r="1.75"/>
<circle cx="562.8" cy="268.9" r="1.75"/>
<circle cx="562.8" cy="304.3" r="1.75"/>
<circle cx="562.8" cy="308.3" r="1.75"/>
<circle cx="562.8" cy="320.1" r="1.75"/>
<circle cx="562.8" cy="324.0" r="1.75"/>
<circle cx="562.8" cy="339.8" r="1.75"/>
<circle cx="562.8" cy="343.8" r="1.75"/>
<circle cx="562.8" cy="371.3" r="1.75"/>
<circle cx="562.8" cy="387.1" r="1.75"/>
<circle cx="562.8" cy="391.0" r="1.75"/>
<circle cx="562.8" cy="410.7" r="1.75"/>
<circle cx="562.8" cy="414.7" r="1.75"/>
<circle cx="564.8" cy="97.5" r="1.75"/>
<circle cx="564.8" cy="105.4" r="1.75"/>
<circle cx="564.8" cy="140.8" r="1.75"/>
<circle cx="564.8" cy="247.2" r="1.75"/>
<circle cx="564.8" cy="263.0" r="1.75"/>
<circle cx="564.8" cy="266.9" r="1.75"/>
<circle cx="564.8" cy="306.3" r="1.75"/>
<circle cx="564.8" cy="310.3" r="1.75"/>
<circle cx="564.8" cy="322.1" r="1.75"/>
<circle cx="564.8" cy="337.8" r="1.75"/>
<circle cx="564.8" cy="341.8" r="1.75"/>
<circle cx="564.8" cy="369.4" r="1.75"/>
<circle cx="564.8" cy="373.3" r="1.75"/>
<circle cx="564.8" cy="389.1" r="1.75"/>
<circle cx="564.8" cy="412.7" r="1.75"/>
<circle cx="566.8" cy="95.5" r="1.75"/>
<circle cx="566.8" cy="99.5" r="1.75"/>
<circle cx="566.8" cy="103.4" r="1.75"/>
<circle cx="566.8" cy="138.9" r="1.75"/>
<circle cx="566.8" cy="284.6" r="1.75"/>
<circle cx="566.8" cy="335.9" r="1.75"/>
<circle cx="566.8" cy="339.8" r="1.75"/>
<circle cx="566.8" cy="371.3" r="1.75"/>
<circle cx="566.8" cy="387.1" r="1.75"/>
<circle cx="566.8" cy="391.0" r="1.75"/>
<circle cx="568.7" cy="62.0" r="1.75"/>
<circle cx="568.7" cy="97.5" r="1.75"/>
<circle cx="568.7" cy="140.8" r="1.75"/>
<circle cx="568.7" cy="192.1" r="1.75"/>
<circle cx="568.7" cy="282.7" r="1.75"/>
<circle cx="568.7" cy="286.6" r="1.75"/>
<circle cx="568.7" cy="337.8" r="1.75"/>
<circle cx="568.7" cy="389.1" r="1.75"/>
<circle cx="570.7" cy="64.0" r="1.75"/>
<circle cx="570.7" cy="138.9" r="1.75"/>
<circle cx="570.7" cy="154.6" r="1.75"/>
<circle cx="570.7" cy="190.1" r="1.75"/>
<circle cx="570.7" cy="194.0" r="1.75"/>
<circle cx="570.7" cy="209.8" r="1.75"/>
<circle cx="570.7" cy="213.7" r="1.75"/>
<circle cx="570.7" cy="284.6" r="1.75"/>
<circle cx="570.7" cy="288.6" r="1.75"/>
<circle cx="570.7" cy="387.1" r="1.75"/>
<circle cx="570.7" cy="391.0" r="1.75"/>
<circle cx="572.7" cy="66.0" r="1.75"/>
<circle cx="572.7" cy="140.8" r="1.75"/>
<circle cx="572.7" cy="152.7" r="1.75"/>
<circle cx="572.7" cy="156.6" r="1.75"/>
<circle cx="572.7" cy="192.1" r="1.75"/>
<circle cx="572.7" cy="207.8" r="1.75"/>
<circle cx="572.7" cy="211.8" r="1.75"/>
<circle cx="572.7" cy="215.7" r="1.75"/>
<circle cx="572.7" cy="243.3" r="1.75"/>
<circle cx="572.7" cy="247.2" r="1.75"/>
<circle cx="572.7" cy="282.7" r="1.75"/>
<circle cx="572.7" cy="286.6" r="1.75"/>
<circle cx="572.7" cy="389.1" r="1.75"/>
<circle cx="574.6" cy="64.0" r="1.75"/>
<circle cx="574.6" cy="138.9" r="1.75"/>
<circle cx="574.6" cy="154.6" r="1.75"/>
<circle cx="574.6" cy="158.6" r="1.75"/>
<circle cx="574.6" cy="209.8" r="1.75"/>
<circle cx="574.6" cy="213.7" r="1.75"/>
<circle cx="574.6" cy="241.3" r="1.75"/>
<circle cx="574.6" cy="245.2" r="1.75"/>
<circle cx="574.6" cy="284.6" r="1.75"/>
<circle cx="576.6" cy="62.0" r="1.75"/>
<circle cx="576.6" cy="66.0" r="1.75"/>
<circle cx="576.6" cy="140.8" r="1.75"/>
<circle cx="576.6" cy="184.2" r="1.75"/>
<circle cx="576.6" cy="353.6" r="1.75"/>
<circle cx="578.6" cy="64.0" r="1.75"/>
<circle cx="578.6" cy="87.7" r="1.75"/>
<circle cx="578.6" cy="138.9" r="1.75"/>
<circle cx="578.6" cy="182.2" r="1.75"/>
<circle cx="578.6" cy="186.2" r="1.75"/>
<circle cx="578.6" cy="351.6" r="1.75"/>
<circle cx="578.6" cy="355.6" r="1.75"/>
<circle cx="578.6" cy="414.7" r="1.75"/>
<circle cx="580.5" cy="85.7" r="1.75"/>
<circle cx="580.5" cy="89.6" r="1.75"/>
<circle cx="580.5" cy="140.8" r="1.75"/>
<circle cx="580.5" cy="184.2" r="1.75"/>
<circle cx="580.5" cy="353.6" r="1.75"/>
<circle cx="580.5" cy="373.3" r="1.75"/>
<circle cx="580.5" cy="412.7" r="1.75"/>
<circle cx="580.5" cy="420.6" r="1.75"/>
<circle cx="582.5" cy="83.7" r="1.75"/>
<circle cx="582.5" cy="87.7" r="1.75"/>
<circle cx="582.5" cy="91.6" r="1.75"/>
<circle cx="582.5" cy="182.2" r="1.75"/>
<circle cx="582.5" cy="186.2" r="1.75"/>
<circle cx="582.5" cy="229.5" r="1.75"/>
<circle cx="582.5" cy="233.4" r="1.75"/>
<circle cx="582.5" cy="300.4" r="1.75"/>
<circle cx="582.5" cy="355.6" r="1.75"/>
<circle cx="582.5" cy="371.3" r="1.75"/>
<circle cx="582.5" cy="375.3" r="1.75"/>
<circle cx="582.5" cy="410.7" r="1.75"/>
<circle cx="582.5" cy="414.7" r="1.75"/>
<circle cx="584.5" cy="85.7" r="1.75"/>
<circle cx="584.5" cy="89.6" r="1.75"/>
<circle cx="584.5" cy="184.2" r="1.75"/>
<circle cx="584.5" cy="227.5" r="1.75"/>
<circle cx="584.5" cy="231.5" r="1.75"/>
<circle cx="584.5" cy="235.4" r="1.75"/>
<circle cx="584.5" cy="298.4" r="1.75"/>
<circle cx="584.5" cy="302.4" r="1.75"/>
<circle cx="584.5" cy="373.3" r="1.75"/>
<circle cx="584.5" cy="412.7" r="1.75"/>
<circle cx="586.5" cy="87.7" r="1.75"/>
<circle cx="586.5" cy="127.1" r="1.75"/>
<circle cx="586.5" cy="131.0" r="1.75"/>
<circle cx="586.5" cy="229.5" r="1.75"/>
<circle cx="586.5" cy="233.4" r="1.75"/>
<circle cx="586.5" cy="264.9" r="1.75"/>
<circle cx="586.5" cy="328.0" r="1.75"/>
<circle cx="586.5" cy="371.3" r="1.75"/>
<circle cx="588.4" cy="121.1" r="1.75"/>
<circle cx="588.4" cy="125.1" r="1.75"/>
<circle cx="588.4" cy="129.0" r="1.75"/>
<circle cx="588.4" cy="263.0" r="1.75"/>
<circle cx="588.4" cy="266.9" r="1.75"/>
<circle cx="588.4" cy="326.0" r="1.75"/>
<circle cx="588.4" cy="369.4" r="1.75"/>
<circle cx="588.4" cy="389.1" r="1.75"/>
<circle cx="590.4" cy="48.2" r="1.75"/>
<circle cx="590.4" cy="52.2" r="1.75"/>
<circle cx="590.4" cy="56.1" r="1.75"/>
<circle cx="590.4" cy="119.2" r="1.75"/>
<circle cx="590.4" cy="123.1" r="1.75"/>
<circle cx="590.4" cy="127.1" r="1.75"/>
<circle cx="590.4" cy="178.3" r="1.75"/>
<circle cx="590.4" cy="182.2" r="1.75"/>
<circle cx="590.4" cy="186.2" r="1.75"/>
<circle cx="590.4" cy="261.0" r="1.75"/>
<circle cx="590.4" cy="264.9" r="1.75"/>
<circle cx="590.4" cy="268.9" r="1.75"/>
<circle cx="590.4" cy="324.0" r="1.75"/>
<circle cx="590.4" cy="351.6" r="1.75"/>
<circle cx="590.4" cy="367.4" r="1.75"/>
<circle cx="590.4" cy="387.1" r="1.75"/>
<circle cx="590.4" cy="391.0" r="1.75"/>
<circle cx="592.4" cy="46.3" r="1.75"/>
<circle cx="592.4" cy="50.2" r="1.75"/>
<circle cx="592.4" cy="54.2" r="1.75"/>
<circle cx="592.4" cy="58.1" r="1.75"/>
<circle cx="592.4" cy="176.3" r="1.75"/>
<circle cx="592.4" cy="180.2" r="1.75"/>
<circle cx="592.4" cy="184.2" r="1.75"/>
<circle cx="592.4" cy="188.1" r="1.75"/>
<circle cx="592.4" cy="235.4" r="1.75"/>
<circle cx="592.4" cy="263.0" r="1.75"/>
<circle cx="592.4" cy="266.9" r="1.75"/>
<circle cx="592.4" cy="385.1" r="1.75"/>
</g>
<ellipse cx="407.9" cy="49.2" rx="9.1" ry="11.1" transform="rotate(0 407.9 49.2)" fill="none" stroke="#ea1216" stroke-width="1.5"/>
<polygon points="389.5,55.1 396.4,62.0 389.5,69.0 382.5,62.0" fill="none" stroke="#ea1216" stroke-width="1.6"/>
<polygon points="389.5,70.9 396.4,77.8 389.5,84.7 382.5,77.8" fill="none" stroke="#ea1216" stroke-width="1.6"/>
<ellipse cx="425.5" cy="78.2" rx="9.6" ry="9.6" transform="rotate(0 425.5 78.2)" fill="none" stroke="#ea1216" stroke-width="1.5"/>
<polygon points="440.7,74.8 447.6,81.7 440.7,88.7 433.7,81.7" fill="none" stroke="#ea1216" stroke-width="1.6"/>
<ellipse cx="406.6" cy="87.9" rx="7.1" ry="9.8" transform="rotate(0 406.6 87.9)" fill="none" stroke="#ea1216" stroke-width="1.5"/>
<rect x="449.5" y="41.3" width="21.9" height="11.1" rx="0" fill="none" stroke="#0a0a0a" stroke-width="1.5"/>
<rect x="478.0" y="42.1" width="12.4" height="13.5" rx="0" fill="none" stroke="#ea1216" stroke-width="1.6"/>
<rect x="481.5" y="55.5" width="13.2" height="12.6" rx="2.2" fill="none" stroke="#0a0a0a" stroke-width="1.5"/>
<rect x="499.8" y="47.6" width="22.1" height="11.7" rx="0" fill="none" stroke="#0a0a0a" stroke-width="1.5"/>
<rect x="486.6" y="69.8" width="27.1" height="10.6" rx="0" fill="none" stroke="#0a0a0a" stroke-width="1.5"/>
<polygon points="529.3,40.9 536.6,48.2 529.3,55.6 522.0,48.2" fill="none" stroke="#ea1216" stroke-width="1.6"/>
<rect x="520.5" y="72.6" width="12.0" height="17.6" rx="0" fill="none" stroke="#ea1216" stroke-width="1.6"/>
<rect x="406.0" y="118.3" width="12.6" height="13.9" rx="0" fill="none" stroke="#ea1216" stroke-width="1.6"/>
<rect x="437.5" y="115.1" width="14.5" height="18.3" rx="0" fill="none" stroke="#0a0a0a" stroke-width="1.5"/>
<rect x="483.8" y="89.3" width="12.2" height="13.6" rx="0" fill="none" stroke="#ea1216" stroke-width="1.6"/>
<rect x="455.0" y="122.7" width="13.2" height="12.6" rx="2.2" fill="none" stroke="#0a0a0a" stroke-width="1.5"/>
<ellipse cx="582" cy="89.6" rx="7.6" ry="8.3" fill="none" stroke="#ea1216" stroke-width="1.5"/>
<rect x="550.5" y="92.4" width="21.7" height="10.1" rx="0" fill="none" stroke="#0a0a0a" stroke-width="1.5"/>
<rect x="545.7" y="111.3" width="10.7" height="16.0" rx="0" fill="none" stroke="#0a0a0a" stroke-width="1.5"/>
<polygon points="558.9,122.7 565.2,129.0 558.9,135.3 552.6,129.0" fill="none" stroke="#ea1216" stroke-width="1.6"/>
<ellipse cx="412.0" cy="149.7" rx="7.1" ry="12.0" transform="rotate(0 412.0 149.7)" fill="none" stroke="#ea1216" stroke-width="1.5"/>
<polygon points="399.3,159.5 406.2,166.5 399.3,173.4 392.4,166.5" fill="none" stroke="#ea1216" stroke-width="1.6"/>
<polygon points="393.4,181.2 400.3,188.1 393.4,195.1 386.5,188.1" fill="none" stroke="#ea1216" stroke-width="1.6"/>
<rect x="403.2" y="183.5" width="21.4" height="10.7" rx="0" fill="none" stroke="#0a0a0a" stroke-width="1.5"/>
<rect x="493.5" y="132.8" width="11.6" height="17.3" rx="0" fill="none" stroke="#ea1216" stroke-width="1.6"/>
<rect x="505.5" y="132.8" width="13.9" height="10.3" rx="0" fill="none" stroke="#ea1216" stroke-width="1.6"/>
<polygon points="462.3,143.8 469.3,150.7 462.3,157.6 455.4,150.7" fill="none" stroke="#ea1216" stroke-width="1.6"/>
<ellipse cx="466.4" cy="173.0" rx="7.3" ry="9.5" transform="rotate(0 466.4 173.0)" fill="none" stroke="#ea1216" stroke-width="1.5"/>
<polygon points="488.0,169.4 494.9,176.3 488.0,183.2 481.0,176.3" fill="none" stroke="#ea1216" stroke-width="1.6"/>
<polygon points="495.8,177.2 502.8,184.2 495.8,191.1 488.9,184.2" fill="none" stroke="#ea1216" stroke-width="1.6"/>
<rect x="489.3" y="152.4" width="13.0" height="12.9" rx="2.2" fill="none" stroke="#0a0a0a" stroke-width="1.5"/>
<rect x="496.6" y="167.1" width="13.9" height="13.0" rx="2.2" fill="none" stroke="#0a0a0a" stroke-width="1.5"/>
<rect x="514.9" y="154.9" width="12.9" height="11.8" rx="2.2" fill="none" stroke="#0a0a0a" stroke-width="1.5"/>
<rect x="514.3" y="168.0" width="11.3" height="13.6" rx="0" fill="none" stroke="#ea1216" stroke-width="1.6"/>
<rect x="539.8" y="151.1" width="24.8" height="13.1" rx="0" fill="none" stroke="#0a0a0a" stroke-width="1.5"/>
<rect x="567.7" y="150.1" width="13.5" height="13.2" rx="2.2" fill="none" stroke="#0a0a0a" stroke-width="1.5"/>
<rect x="543.4" y="170.3" width="16.4" height="11.1" rx="0" fill="none" stroke="#0a0a0a" stroke-width="1.5"/>
<rect x="542.2" y="184.1" width="11.5" height="13.9" rx="0" fill="none" stroke="#ea1216" stroke-width="1.6"/>
<rect x="573.2" y="179.1" width="14.1" height="9.8" rx="0" fill="none" stroke="#ea1216" stroke-width="1.6"/>
<polygon points="570.7,186.0 576.7,192.1 570.7,198.1 564.6,192.1" fill="none" stroke="#ea1216" stroke-width="1.6"/>
<ellipse cx="419.2" cy="204.6" rx="7.6" ry="9.8" transform="rotate(0 419.2 204.6)" fill="none" stroke="#ea1216" stroke-width="1.5"/>
<rect x="383.6" y="205.6" width="14.2" height="11.0" rx="0" fill="none" stroke="#ea1216" stroke-width="1.6"/>
<polygon points="484.0,208.8 490.9,215.7 484.0,222.6 477.1,215.7" fill="none" stroke="#ea1216" stroke-width="1.6"/>
<rect x="513.7" y="222.3" width="18.4" height="10.1" rx="0" fill="none" stroke="#ea1216" stroke-width="1.6"/>
<rect x="506.1" y="232.7" width="12.6" height="12.9" rx="0" fill="none" stroke="#ea1216" stroke-width="1.6"/>
<polygon points="551.0,200.5 558.3,207.8 551.0,215.1 543.7,207.8" fill="none" stroke="#ea1216" stroke-width="1.6"/>
<rect x="567.4" y="204.4" width="11.5" height="14.1" rx="0" fill="none" stroke="#ea1216" stroke-width="1.6"/>
<rect x="578.8" y="224.5" width="12.2" height="14.1" rx="0" fill="none" stroke="#ea1216" stroke-width="1.6"/>
<polygon points="426.9,281.7 433.8,288.6 426.9,295.5 419.9,288.6" fill="none" stroke="#ea1216" stroke-width="1.6"/>
<rect x="451.5" y="263.2" width="11.7" height="13.9" rx="0" fill="none" stroke="#ea1216" stroke-width="1.6"/>
<rect x="463.9" y="275.8" width="12.0" height="13.4" rx="0" fill="none" stroke="#ea1216" stroke-width="1.6"/>
<polygon points="495.8,283.6 502.8,290.6 495.8,297.5 488.9,290.6" fill="none" stroke="#ea1216" stroke-width="1.6"/>
<rect x="534.3" y="237.3" width="12.9" height="13.6" rx="2.2" fill="none" stroke="#0a0a0a" stroke-width="1.5"/>
<polygon points="562.8,239.9 570.1,247.2 562.8,254.5 555.5,247.2" fill="none" stroke="#ea1216" stroke-width="1.6"/>
<rect x="568.4" y="237.3" width="13.2" height="13.0" rx="2.2" fill="none" stroke="#0a0a0a" stroke-width="1.5"/>
<ellipse cx="561.7" cy="268.3" rx="7.8" ry="9.8" transform="rotate(0 561.7 268.3)" fill="none" stroke="#ea1216" stroke-width="1.5"/>
<ellipse cx="542.9" cy="279.9" rx="7.3" ry="9.5" transform="rotate(0 542.9 279.9)" fill="none" stroke="#ea1216" stroke-width="1.5"/>
<rect x="421.4" y="302.9" width="22.1" height="11.7" rx="0" fill="none" stroke="#0a0a0a" stroke-width="1.5"/>
<rect x="388.1" y="320.8" width="13.5" height="15.8" rx="0" fill="none" stroke="#0a0a0a" stroke-width="1.5"/>
<polygon points="413.1,318.7 420.4,326.0 413.1,333.3 405.8,326.0" fill="none" stroke="#ea1216" stroke-width="1.6"/>
<polygon points="403.2,332.5 410.6,339.8 403.2,347.1 395.9,339.8" fill="none" stroke="#ea1216" stroke-width="1.6"/>
<polygon points="442.6,320.7 450.0,328.0 442.6,335.3 435.3,328.0" fill="none" stroke="#ea1216" stroke-width="1.6"/>
<rect x="436.2" y="333.2" width="11.3" height="15.8" rx="0" fill="none" stroke="#ea1216" stroke-width="1.6"/>
<rect x="409.1" y="342.6" width="11.7" height="13.5" rx="0" fill="none" stroke="#ea1216" stroke-width="1.6"/>
<ellipse cx="498.5" cy="302.6" rx="12.6" ry="6.6" transform="rotate(0 498.5 302.6)" fill="none" stroke="#ea1216" stroke-width="1.5"/>
<rect x="473.1" y="313.4" width="11.6" height="19.2" rx="0" fill="none" stroke="#ea1216" stroke-width="1.6"/>
<rect x="486.6" y="318.4" width="13.2" height="13.1" rx="2.2" fill="none" stroke="#0a0a0a" stroke-width="1.5"/>
<polygon points="493.9,332.5 501.2,339.8 493.9,347.1 486.5,339.8" fill="none" stroke="#ea1216" stroke-width="1.6"/>
<rect x="537.9" y="321.0" width="16.4" height="10.6" rx="0" fill="none" stroke="#0a0a0a" stroke-width="1.5"/>
<rect x="557.0" y="317.4" width="13.9" height="12.9" rx="2.2" fill="none" stroke="#0a0a0a" stroke-width="1.5"/>
<rect x="396.5" y="374.7" width="11.7" height="13.6" rx="0" fill="none" stroke="#ea1216" stroke-width="1.6"/>
<rect x="380.5" y="390.2" width="13.5" height="12.6" rx="2.2" fill="none" stroke="#0a0a0a" stroke-width="1.5"/>
<rect x="459.1" y="348.4" width="21.6" height="12.2" rx="0" fill="none" stroke="#0a0a0a" stroke-width="1.5"/>
<rect x="505.8" y="341.4" width="13.5" height="12.6" rx="2.2" fill="none" stroke="#0a0a0a" stroke-width="1.5"/>
<polygon points="484.0,358.1 491.3,365.4 484.0,372.7 476.7,365.4" fill="none" stroke="#ea1216" stroke-width="1.6"/>
<ellipse cx="506.7" cy="368.8" rx="11.1" ry="8.6" transform="rotate(-12 506.7 368.8)" fill="none" stroke="#ea1216" stroke-width="1.5"/>
<rect x="572.8" y="347.0" width="13.2" height="13.6" rx="2.2" fill="none" stroke="#0a0a0a" stroke-width="1.5"/>
<polygon points="564.8,364.0 572.1,371.3 564.8,378.6 557.5,371.3" fill="none" stroke="#ea1216" stroke-width="1.6"/>
<rect x="555.5" y="382.7" width="21.7" height="11.7" rx="0" fill="none" stroke="#0a0a0a" stroke-width="1.5"/>
<rect x="541.3" y="391.5" width="15.5" height="10.7" rx="0" fill="none" stroke="#0a0a0a" stroke-width="1.5"/>
<rect x="379.2" y="407.8" width="10.6" height="14.0" rx="0" fill="none" stroke="#ea1216" stroke-width="1.6"/>
<rect x="404.8" y="406.8" width="12.0" height="13.1" rx="0" fill="none" stroke="#ea1216" stroke-width="1.6"/>
<rect x="437.4" y="396.5" width="13.1" height="12.8" rx="2.2" fill="none" stroke="#0a0a0a" stroke-width="1.5"/>
<polygon points="521.4,396.0 528.3,402.8 521.4,409.7 514.6,402.8" fill="none" stroke="#ea1216" stroke-width="1.6"/>
<ellipse cx="538.6" cy="408.6" rx="7.5" ry="9.8" transform="rotate(0 538.6 408.6)" fill="none" stroke="#ea1216" stroke-width="1.5"/>
<rect x="551.1" y="407.0" width="17.1" height="11.6" rx="0" fill="none" stroke="#ea1216" stroke-width="1.6"/>
<rect x="575.2" y="407.4" width="13.4" height="13.1" rx="2.2" fill="none" stroke="#0a0a0a" stroke-width="1.5"/>
</g>
<text x="382" y="20" class="r" font-size="14">(b)</text>
<rect x="541.9" y="39" width="48.9" height="21" fill="#fff"/>
<text x="567" y="53.6" text-anchor="middle" class="r" font-size="14.6">150 s</text>
<line x1="445.0" y1="416.4" x2="423.5" y2="395.8" stroke="#050505" stroke-width="1.05"/>
<polygon points="419.7,392.2 426.7,393.8 421.6,399.2" fill="#050505"/>
<line x1="445.0" y1="416.4" x2="468.1" y2="395.3" stroke="#050505" stroke-width="1.05"/>
<polygon points="471.9,391.8 469.8,398.7 464.8,393.3" fill="#050505"/>
<g transform="translate(436.2,373.3) rotate(-44)">
<rect x="-20" y="-8.7" width="40" height="17.4" fill="#fff"/>
<text x="0.5" y="4.9" text-anchor="middle" class="b" font-size="14.3" letter-spacing="0.9" fill="#000" stroke="#000" stroke-width="0.3">[011]</text>
</g>
<g transform="translate(484.2,401.1) rotate(-44)">
<rect x="-20" y="-8.7" width="40" height="17.4" fill="#fff"/>
<text x="0.5" y="4.9" text-anchor="middle" class="b" font-size="14.3" letter-spacing="0.9" fill="#000" stroke="#000" stroke-width="0.3">[011]</text>
<line x1="3.6" y1="-6.6" x2="10.2" y2="-6.6" stroke="#000" stroke-width="0.9"/>
</g>
</svg>
</body></html>
